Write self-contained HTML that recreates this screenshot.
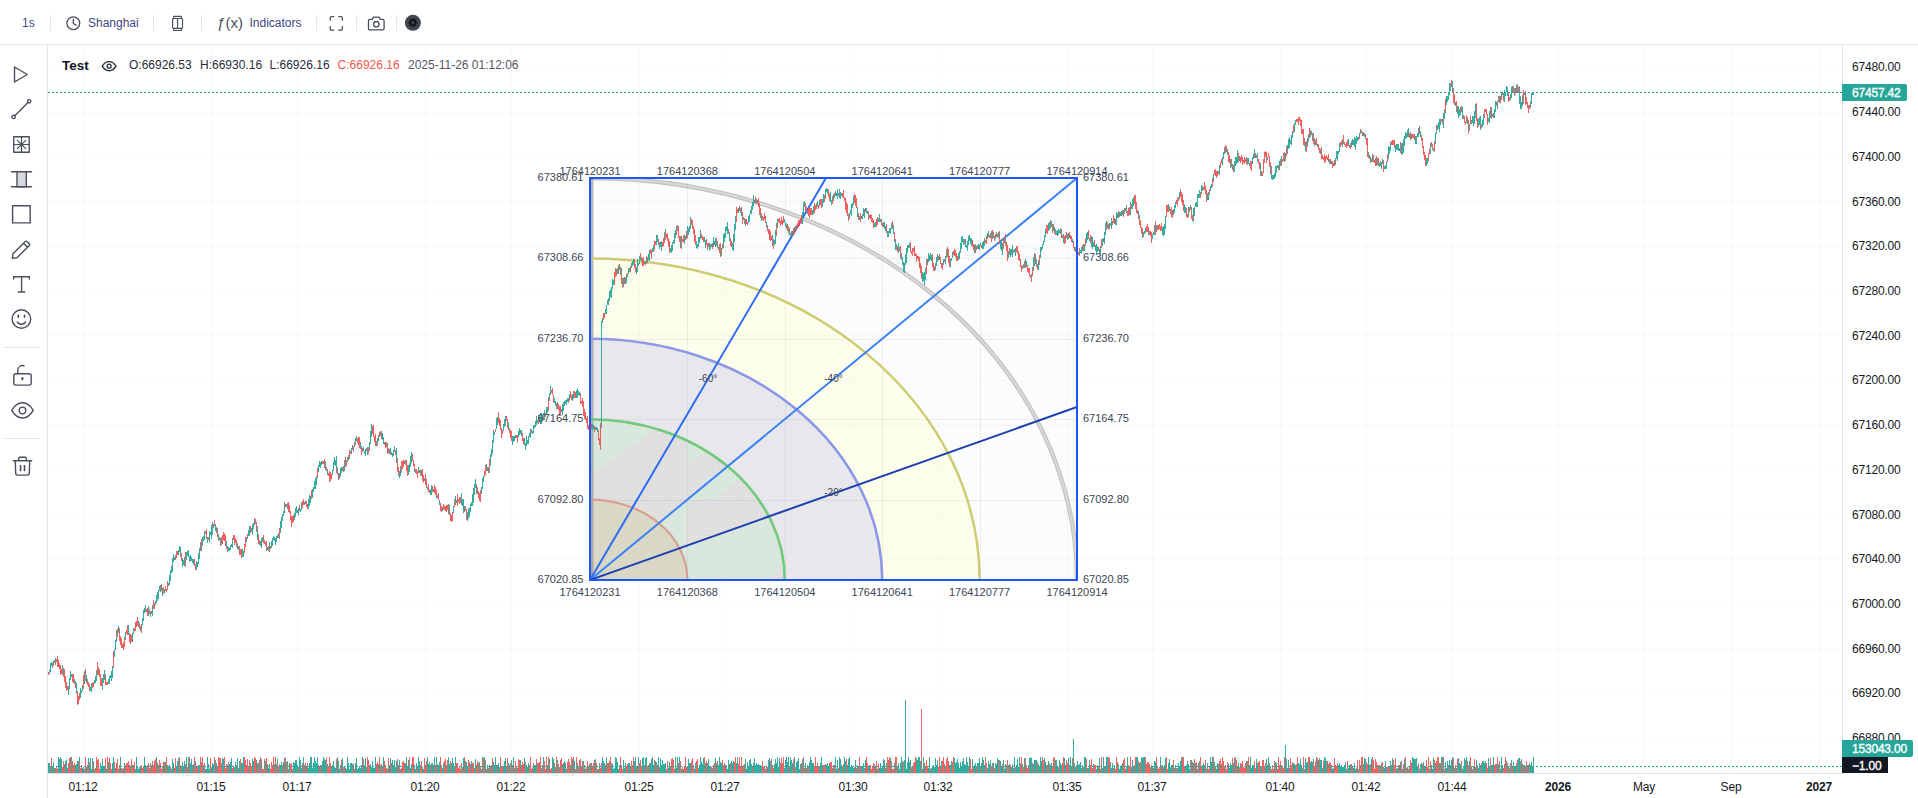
<!DOCTYPE html>
<html><head><meta charset="utf-8"><title>Chart</title>
<style>html,body{margin:0;padding:0;background:#fff;overflow:hidden}svg{display:block;font-family:"Liberation Sans",sans-serif}</style>
</head><body>
<svg width="1918" height="798" viewBox="0 0 1918 798">
<defs>
<pattern id="stip" width="3" height="4" patternUnits="userSpaceOnUse"><rect width="3" height="4" fill="#dcdce1"/><rect x="0" y="0" width="1" height="1" fill="#efedd6"/><rect x="1.5" y="2" width="1" height="1" fill="#efedd6"/></pattern>
<clipPath id="ring"><path clip-rule="evenodd" d="M590 580L590 419.2A194.8 160.8 0 0 1 784.8 580ZM590 580L590 499.6A97.4 80.4 0 0 1 687.4 580Z"/></clipPath>
<filter id="blur" x="-5%" y="-5%" width="110%" height="110%"><feGaussianBlur stdDeviation="0.55"/></filter>
<clipPath id="outer6"><path clip-rule="evenodd" d="M590 178H1077V580H590ZM590 580L590 338.8A292.2 241.2 0 0 1 882.2 580Z"/></clipPath>
<clipPath id="boxclip"><rect x="590" y="178" width="487" height="402"/></clipPath>
</defs>
<rect width="1918" height="798" fill="#fff"/>
<g fill="#000" fill-opacity=".022"><rect x="83" y="45" width="1" height="728"/><rect x="211" y="45" width="1" height="728"/><rect x="297" y="45" width="1" height="728"/><rect x="425" y="45" width="1" height="728"/><rect x="511" y="45" width="1" height="728"/><rect x="639" y="45" width="1" height="728"/><rect x="725" y="45" width="1" height="728"/><rect x="853" y="45" width="1" height="728"/><rect x="938" y="45" width="1" height="728"/><rect x="1067" y="45" width="1" height="728"/><rect x="1152" y="45" width="1" height="728"/><rect x="1280" y="45" width="1" height="728"/><rect x="1366" y="45" width="1" height="728"/><rect x="1452" y="45" width="1" height="728"/><rect x="1558" y="45" width="1" height="728"/><rect x="1644" y="45" width="1" height="728"/><rect x="1731" y="45" width="1" height="728"/><rect x="1819" y="45" width="1" height="728"/><rect x="48" y="67" width="1794" height="1"/><rect x="48" y="112" width="1794" height="1"/><rect x="48" y="156" width="1794" height="1"/><rect x="48" y="201" width="1794" height="1"/><rect x="48" y="246" width="1794" height="1"/><rect x="48" y="291" width="1794" height="1"/><rect x="48" y="335" width="1794" height="1"/><rect x="48" y="380" width="1794" height="1"/><rect x="48" y="425" width="1794" height="1"/><rect x="48" y="469" width="1794" height="1"/><rect x="48" y="514" width="1794" height="1"/><rect x="48" y="559" width="1794" height="1"/><rect x="48" y="604" width="1794" height="1"/><rect x="48" y="648" width="1794" height="1"/><rect x="48" y="693" width="1794" height="1"/><rect x="48" y="738" width="1794" height="1"/></g>
<rect x="590" y="178" width="487" height="402" fill="#fcfcfc"/>
<path d="M590 580L590 178.0A487.0 402.0 0 0 1 1077.0 580Z" fill="#fcfcfd"/>
<path d="M590 580L590 258.4A389.6 321.6 0 0 1 979.6 580Z" fill="#fdfdeb"/>
<path d="M590 580L590 338.8A292.2 241.2 0 0 1 882.2 580Z" fill="#e8e8ec"/>
<path d="M590 580L590 419.2A194.8 160.8 0 0 1 784.8 580Z" fill="#d9e8dc"/>
<g clip-path="url(#ring)">
<path d="M590 476.5L652 431L687 405L687 500L590 580Z" fill="url(#stip)"/>
<path d="M687 467L740 423L760 440L687 500Z" fill="url(#stip)"/>
<path d="M687 500L715 499L765 457L800 457L800 505.4L687 545.5Z" fill="url(#stip)"/>
<path d="M767 580L790 562L790 580Z" fill="url(#stip)"/>
</g>
<path d="M590 580L590 499.6A97.4 80.4 0 0 1 687.4 580Z" fill="#d9d7c6"/>

<rect x="687" y="178" width="1" height="402" fill="#8c8c8c" fill-opacity=".13"/><rect x="590" y="500" width="487" height="1" fill="#8c8c8c" fill-opacity=".13"/><rect x="785" y="178" width="1" height="402" fill="#8c8c8c" fill-opacity=".13"/><rect x="590" y="419" width="487" height="1" fill="#8c8c8c" fill-opacity=".13"/><rect x="882" y="178" width="1" height="402" fill="#8c8c8c" fill-opacity=".13"/><rect x="590" y="339" width="487" height="1" fill="#8c8c8c" fill-opacity=".13"/><rect x="980" y="178" width="1" height="402" fill="#8c8c8c" fill-opacity=".13"/><rect x="590" y="258" width="487" height="1" fill="#8c8c8c" fill-opacity=".13"/>
<g clip-path="url(#outer6)"><g fill="#000" fill-opacity=".022"><rect x="83" y="45" width="1" height="728"/><rect x="211" y="45" width="1" height="728"/><rect x="297" y="45" width="1" height="728"/><rect x="425" y="45" width="1" height="728"/><rect x="511" y="45" width="1" height="728"/><rect x="639" y="45" width="1" height="728"/><rect x="725" y="45" width="1" height="728"/><rect x="853" y="45" width="1" height="728"/><rect x="938" y="45" width="1" height="728"/><rect x="1067" y="45" width="1" height="728"/><rect x="1152" y="45" width="1" height="728"/><rect x="1280" y="45" width="1" height="728"/><rect x="1366" y="45" width="1" height="728"/><rect x="1452" y="45" width="1" height="728"/><rect x="1558" y="45" width="1" height="728"/><rect x="1644" y="45" width="1" height="728"/><rect x="1731" y="45" width="1" height="728"/><rect x="1819" y="45" width="1" height="728"/><rect x="48" y="67" width="1794" height="1"/><rect x="48" y="112" width="1794" height="1"/><rect x="48" y="156" width="1794" height="1"/><rect x="48" y="201" width="1794" height="1"/><rect x="48" y="246" width="1794" height="1"/><rect x="48" y="291" width="1794" height="1"/><rect x="48" y="335" width="1794" height="1"/><rect x="48" y="380" width="1794" height="1"/><rect x="48" y="425" width="1794" height="1"/><rect x="48" y="469" width="1794" height="1"/><rect x="48" y="514" width="1794" height="1"/><rect x="48" y="559" width="1794" height="1"/><rect x="48" y="604" width="1794" height="1"/><rect x="48" y="648" width="1794" height="1"/><rect x="48" y="693" width="1794" height="1"/><rect x="48" y="738" width="1794" height="1"/></g></g>
<path d="M48 763v10h1v-10zM49 763v10h1v-10zM50 766v7h1v-7zM52 767v6h1v-6zM53 762v11h1v-11zM54 768v5h1v-5zM58 757v16h1v-16zM59 759v14h1v-14zM60 757v16h1v-16zM61 759v14h1v-14zM65 761v12h1v-12zM66 760v13h1v-13zM67 768v5h1v-5zM70 757v16h1v-16zM75 765v8h1v-8zM76 764v9h1v-9zM77 761v12h1v-12zM79 757v16h1v-16zM82 768v5h1v-5zM83 767v6h1v-6zM84 769v4h1v-4zM86 767v6h1v-6zM88 758v15h1v-15zM90 758v15h1v-15zM91 769v4h1v-4zM92 758v15h1v-15zM94 769v4h1v-4zM100 763v10h1v-10zM101 767v6h1v-6zM102 759v14h1v-14zM103 766v7h1v-7zM104 766v7h1v-7zM106 769v4h1v-4zM108 762v11h1v-11zM112 763v10h1v-10zM113 757v16h1v-16zM115 768v5h1v-5zM118 769v4h1v-4zM120 757v16h1v-16zM122 769v4h1v-4zM124 763v10h1v-10zM130 766v7h1v-7zM135 769v4h1v-4zM136 757v16h1v-16zM137 766v7h1v-7zM138 769v4h1v-4zM139 767v6h1v-6zM140 767v6h1v-6zM144 757v16h1v-16zM145 765v8h1v-8zM146 766v7h1v-7zM150 763v10h1v-10zM156 757v16h1v-16zM158 765v8h1v-8zM162 766v7h1v-7zM164 762v11h1v-11zM167 765v8h1v-8zM168 767v6h1v-6zM169 765v8h1v-8zM171 769v4h1v-4zM172 759v14h1v-14zM173 763v10h1v-10zM176 766v7h1v-7zM177 761v12h1v-12zM179 757v16h1v-16zM181 767v6h1v-6zM182 762v11h1v-11zM183 766v7h1v-7zM184 761v12h1v-12zM186 757v16h1v-16zM188 757v16h1v-16zM190 763v10h1v-10zM191 759v14h1v-14zM192 765v8h1v-8zM195 761v12h1v-12zM198 765v8h1v-8zM199 765v8h1v-8zM203 765v8h1v-8zM205 769v4h1v-4zM206 769v4h1v-4zM207 757v16h1v-16zM208 764v9h1v-9zM209 769v4h1v-4zM211 767v6h1v-6zM212 763v10h1v-10zM213 764v9h1v-9zM215 760v13h1v-13zM216 763v10h1v-10zM222 758v15h1v-15zM223 759v14h1v-14zM227 765v8h1v-8zM229 764v9h1v-9zM230 762v11h1v-11zM231 758v15h1v-15zM234 767v6h1v-6zM235 762v11h1v-11zM237 758v15h1v-15zM238 768v5h1v-5zM239 761v12h1v-12zM241 763v10h1v-10zM242 763v10h1v-10zM243 757v16h1v-16zM248 767v6h1v-6zM252 759v14h1v-14zM253 761v12h1v-12zM256 760v13h1v-13zM258 763v10h1v-10zM261 759v14h1v-14zM265 761v12h1v-12zM267 764v9h1v-9zM268 768v5h1v-5zM269 764v9h1v-9zM274 764v9h1v-9zM277 759v14h1v-14zM278 766v7h1v-7zM280 765v8h1v-8zM281 762v11h1v-11zM283 762v11h1v-11zM284 758v15h1v-15zM287 761v12h1v-12zM288 769v4h1v-4zM289 763v10h1v-10zM293 762v11h1v-11zM294 763v10h1v-10zM295 760v13h1v-13zM296 760v13h1v-13zM297 765v8h1v-8zM299 757v16h1v-16zM300 760v13h1v-13zM301 768v5h1v-5zM303 757v16h1v-16zM304 765v8h1v-8zM306 766v7h1v-7zM308 768v5h1v-5zM309 763v10h1v-10zM310 757v16h1v-16zM311 757v16h1v-16zM312 768v5h1v-5zM313 763v10h1v-10zM314 757v16h1v-16zM315 761v12h1v-12zM316 763v10h1v-10zM317 757v16h1v-16zM319 766v7h1v-7zM321 765v8h1v-8zM322 761v12h1v-12zM323 757v16h1v-16zM324 759v14h1v-14zM325 760v13h1v-13zM327 764v9h1v-9zM331 766v7h1v-7zM332 765v8h1v-8zM333 761v12h1v-12zM334 767v6h1v-6zM335 768v5h1v-5zM337 757v16h1v-16zM338 761v12h1v-12zM339 769v4h1v-4zM340 765v8h1v-8zM342 758v15h1v-15zM344 767v6h1v-6zM346 769v4h1v-4zM347 757v16h1v-16zM348 763v10h1v-10zM349 769v4h1v-4zM350 763v10h1v-10zM351 763v10h1v-10zM353 764v9h1v-9zM355 763v10h1v-10zM356 758v15h1v-15zM357 769v4h1v-4zM358 768v5h1v-5zM359 766v7h1v-7zM360 768v5h1v-5zM361 765v8h1v-8zM362 757v16h1v-16zM364 765v8h1v-8zM365 758v15h1v-15zM366 767v6h1v-6zM370 764v9h1v-9zM371 767v6h1v-6zM372 761v12h1v-12zM373 768v5h1v-5zM374 768v5h1v-5zM375 757v16h1v-16zM378 764v9h1v-9zM380 765v8h1v-8zM383 757v16h1v-16zM387 769v4h1v-4zM389 765v8h1v-8zM390 758v15h1v-15zM392 760v13h1v-13zM393 765v8h1v-8zM394 760v13h1v-13zM395 767v6h1v-6zM397 759v14h1v-14zM399 760v13h1v-13zM400 769v4h1v-4zM405 763v10h1v-10zM406 757v16h1v-16zM407 766v7h1v-7zM408 760v13h1v-13zM410 768v5h1v-5zM411 764v9h1v-9zM414 765v8h1v-8zM415 769v4h1v-4zM416 763v10h1v-10zM418 757v16h1v-16zM419 761v12h1v-12zM422 767v6h1v-6zM423 769v4h1v-4zM427 757v16h1v-16zM428 764v9h1v-9zM429 762v11h1v-11zM431 763v10h1v-10zM432 763v10h1v-10zM433 765v8h1v-8zM434 757v16h1v-16zM436 757v16h1v-16zM438 765v8h1v-8zM439 762v11h1v-11zM442 768v5h1v-5zM443 763v10h1v-10zM446 765v8h1v-8zM448 757v16h1v-16zM449 764v9h1v-9zM451 763v10h1v-10zM452 758v15h1v-15zM453 763v10h1v-10zM455 757v16h1v-16zM460 769v4h1v-4zM463 758v15h1v-15zM465 761v12h1v-12zM466 762v11h1v-11zM467 766v7h1v-7zM471 761v12h1v-12zM474 768v5h1v-5zM475 759v14h1v-14zM479 762v11h1v-11zM481 769v4h1v-4zM482 757v16h1v-16zM484 757v16h1v-16zM487 765v8h1v-8zM489 765v8h1v-8zM490 766v7h1v-7zM493 762v11h1v-11zM494 765v8h1v-8zM495 757v16h1v-16zM496 765v8h1v-8zM498 763v10h1v-10zM499 767v6h1v-6zM503 766v7h1v-7zM504 761v12h1v-12zM505 758v15h1v-15zM506 766v7h1v-7zM508 763v10h1v-10zM511 760v13h1v-13zM513 757v16h1v-16zM514 768v5h1v-5zM517 768v5h1v-5zM520 760v13h1v-13zM524 758v15h1v-15zM526 765v8h1v-8zM527 767v6h1v-6zM528 763v10h1v-10zM532 768v5h1v-5zM534 765v8h1v-8zM535 765v8h1v-8zM537 763v10h1v-10zM541 768v5h1v-5zM543 757v16h1v-16zM547 765v8h1v-8zM549 759v14h1v-14zM552 757v16h1v-16zM553 759v14h1v-14zM555 767v6h1v-6zM557 760v13h1v-13zM559 767v6h1v-6zM563 763v10h1v-10zM564 761v12h1v-12zM565 763v10h1v-10zM566 769v4h1v-4zM570 765v8h1v-8zM572 759v14h1v-14zM574 761v12h1v-12zM577 763v10h1v-10zM578 766v7h1v-7zM582 761v12h1v-12zM584 765v8h1v-8zM586 767v6h1v-6zM588 766v7h1v-7zM591 763v10h1v-10zM594 760v13h1v-13zM597 769v4h1v-4zM599 763v10h1v-10zM602 757v16h1v-16zM603 761v12h1v-12zM604 763v10h1v-10zM606 757v16h1v-16zM611 763v10h1v-10zM612 764v9h1v-9zM613 769v4h1v-4zM614 768v5h1v-5zM615 757v16h1v-16zM616 758v15h1v-15zM617 762v11h1v-11zM619 765v8h1v-8zM623 760v13h1v-13zM624 768v5h1v-5zM625 763v10h1v-10zM628 763v10h1v-10zM629 763v10h1v-10zM630 766v7h1v-7zM634 761v12h1v-12zM635 757v16h1v-16zM637 766v7h1v-7zM638 757v16h1v-16zM642 758v15h1v-15zM643 757v16h1v-16zM645 758v15h1v-15zM646 757v16h1v-16zM648 765v8h1v-8zM650 763v10h1v-10zM651 759v14h1v-14zM652 757v16h1v-16zM653 765v8h1v-8zM655 761v12h1v-12zM656 762v11h1v-11zM658 757v16h1v-16zM660 758v15h1v-15zM661 765v8h1v-8zM662 760v13h1v-13zM663 764v9h1v-9zM664 764v9h1v-9zM665 763v10h1v-10zM668 768v5h1v-5zM669 762v11h1v-11zM670 766v7h1v-7zM675 757v16h1v-16zM676 768v5h1v-5zM677 757v16h1v-16zM679 757v16h1v-16zM681 769v4h1v-4zM683 769v4h1v-4zM687 766v7h1v-7zM688 759v14h1v-14zM689 763v10h1v-10zM690 763v10h1v-10zM694 769v4h1v-4zM695 763v10h1v-10zM698 768v5h1v-5zM699 765v8h1v-8zM700 757v16h1v-16zM701 762v11h1v-11zM702 764v9h1v-9zM703 758v15h1v-15zM705 763v10h1v-10zM707 763v10h1v-10zM708 759v14h1v-14zM709 766v7h1v-7zM710 766v7h1v-7zM712 768v5h1v-5zM715 758v15h1v-15zM716 763v10h1v-10zM718 765v8h1v-8zM719 757v16h1v-16zM720 762v11h1v-11zM721 763v10h1v-10zM723 765v8h1v-8zM726 765v8h1v-8zM727 769v4h1v-4zM728 760v13h1v-13zM729 764v9h1v-9zM731 761v12h1v-12zM732 763v10h1v-10zM733 761v12h1v-12zM736 763v10h1v-10zM737 757v16h1v-16zM742 766v7h1v-7zM745 759v14h1v-14zM746 769v4h1v-4zM747 762v11h1v-11zM748 766v7h1v-7zM749 760v13h1v-13zM750 759v14h1v-14zM751 764v9h1v-9zM753 763v10h1v-10zM754 758v15h1v-15zM755 765v8h1v-8zM756 763v10h1v-10zM757 765v8h1v-8zM758 764v9h1v-9zM759 765v8h1v-8zM760 765v8h1v-8zM761 767v6h1v-6zM765 769v4h1v-4zM767 767v6h1v-6zM768 760v13h1v-13zM769 758v15h1v-15zM770 761v12h1v-12zM774 764v9h1v-9zM775 759v14h1v-14zM776 763v10h1v-10zM777 757v16h1v-16zM778 767v6h1v-6zM779 758v15h1v-15zM784 768v5h1v-5zM785 760v13h1v-13zM786 757v16h1v-16zM787 762v11h1v-11zM788 757v16h1v-16zM790 757v16h1v-16zM791 760v13h1v-13zM792 763v10h1v-10zM794 757v16h1v-16zM796 762v11h1v-11zM797 761v12h1v-12zM798 758v15h1v-15zM799 769v4h1v-4zM801 763v10h1v-10zM802 759v14h1v-14zM805 763v10h1v-10zM807 765v8h1v-8zM809 762v11h1v-11zM810 757v16h1v-16zM811 760v13h1v-13zM812 763v10h1v-10zM813 763v10h1v-10zM819 766v7h1v-7zM820 763v10h1v-10zM821 757v16h1v-16zM823 765v8h1v-8zM826 765v8h1v-8zM827 763v10h1v-10zM828 766v7h1v-7zM829 763v10h1v-10zM832 768v5h1v-5zM835 757v16h1v-16zM836 769v4h1v-4zM837 760v13h1v-13zM839 757v16h1v-16zM840 759v14h1v-14zM841 765v8h1v-8zM842 766v7h1v-7zM844 757v16h1v-16zM845 761v12h1v-12zM847 765v8h1v-8zM848 759v14h1v-14zM849 757v16h1v-16zM850 767v6h1v-6zM851 765v8h1v-8zM852 766v7h1v-7zM853 768v5h1v-5zM855 760v13h1v-13zM857 765v8h1v-8zM858 766v7h1v-7zM861 767v6h1v-6zM862 766v7h1v-7zM863 763v10h1v-10zM865 760v13h1v-13zM868 766v7h1v-7zM869 765v8h1v-8zM875 766v7h1v-7zM877 769v4h1v-4zM879 768v5h1v-5zM880 763v10h1v-10zM881 768v5h1v-5zM882 766v7h1v-7zM883 759v14h1v-14zM884 760v13h1v-13zM886 763v10h1v-10zM890 758v15h1v-15zM894 763v10h1v-10zM897 767v6h1v-6zM898 763v10h1v-10zM899 769v4h1v-4zM900 763v10h1v-10zM901 757v16h1v-16zM902 761v12h1v-12zM904 760v13h1v-13zM905 700v73h1v-73zM906 769v4h1v-4zM907 762v11h1v-11zM908 757v16h1v-16zM909 762v11h1v-11zM910 760v13h1v-13zM912 766v7h1v-7zM916 758v15h1v-15zM917 760v13h1v-13zM918 757v16h1v-16zM919 757v16h1v-16zM920 761v12h1v-12zM922 769v4h1v-4zM923 757v16h1v-16zM925 767v6h1v-6zM928 768v5h1v-5zM929 757v16h1v-16zM931 768v5h1v-5zM932 767v6h1v-6zM933 765v8h1v-8zM934 767v6h1v-6zM935 758v15h1v-15zM936 765v8h1v-8zM937 760v13h1v-13zM941 761v12h1v-12zM945 766v7h1v-7zM950 765v8h1v-8zM951 761v12h1v-12zM954 758v15h1v-15zM955 763v10h1v-10zM956 762v11h1v-11zM957 759v14h1v-14zM958 763v10h1v-10zM959 768v5h1v-5zM960 762v11h1v-11zM961 766v7h1v-7zM962 761v12h1v-12zM963 758v15h1v-15zM964 764v9h1v-9zM965 765v8h1v-8zM966 757v16h1v-16zM967 762v11h1v-11zM969 757v16h1v-16zM972 759v14h1v-14zM974 765v8h1v-8zM975 763v10h1v-10zM977 763v10h1v-10zM978 763v10h1v-10zM979 758v15h1v-15zM981 763v10h1v-10zM982 757v16h1v-16zM983 760v13h1v-13zM984 765v8h1v-8zM987 768v5h1v-5zM988 761v12h1v-12zM989 764v9h1v-9zM990 760v13h1v-13zM992 763v10h1v-10zM995 763v10h1v-10zM996 764v9h1v-9zM997 758v15h1v-15zM998 760v13h1v-13zM1000 761v12h1v-12zM1001 767v6h1v-6zM1003 760v13h1v-13zM1004 769v4h1v-4zM1005 764v9h1v-9zM1006 765v8h1v-8zM1009 764v9h1v-9zM1011 767v6h1v-6zM1012 764v9h1v-9zM1013 768v5h1v-5zM1014 757v16h1v-16zM1016 765v8h1v-8zM1017 759v14h1v-14zM1018 767v6h1v-6zM1019 757v16h1v-16zM1022 764v9h1v-9zM1024 758v15h1v-15zM1029 758v15h1v-15zM1030 757v16h1v-16zM1031 758v15h1v-15zM1032 763v10h1v-10zM1034 760v13h1v-13zM1035 760v13h1v-13zM1036 760v13h1v-13zM1038 764v9h1v-9zM1039 766v7h1v-7zM1040 757v16h1v-16zM1041 761v12h1v-12zM1044 758v15h1v-15zM1045 762v11h1v-11zM1046 765v8h1v-8zM1048 761v12h1v-12zM1050 765v8h1v-8zM1051 763v10h1v-10zM1055 760v13h1v-13zM1056 760v13h1v-13zM1057 767v6h1v-6zM1059 760v13h1v-13zM1060 763v10h1v-10zM1061 765v8h1v-8zM1064 758v15h1v-15zM1065 765v8h1v-8zM1068 758v15h1v-15zM1070 757v16h1v-16zM1071 766v7h1v-7zM1073 739v34h1v-34zM1074 763v10h1v-10zM1075 767v6h1v-6zM1077 761v12h1v-12zM1078 765v8h1v-8zM1079 764v9h1v-9zM1080 762v11h1v-11zM1081 768v5h1v-5zM1082 765v8h1v-8zM1084 757v16h1v-16zM1085 757v16h1v-16zM1087 768v5h1v-5zM1088 768v5h1v-5zM1089 760v13h1v-13zM1093 764v9h1v-9zM1096 769v4h1v-4zM1097 765v8h1v-8zM1099 758v15h1v-15zM1100 769v4h1v-4zM1102 768v5h1v-5zM1103 757v16h1v-16zM1104 766v7h1v-7zM1106 757v16h1v-16zM1107 757v16h1v-16zM1110 762v11h1v-11zM1111 768v5h1v-5zM1112 763v10h1v-10zM1114 765v8h1v-8zM1118 764v9h1v-9zM1119 769v4h1v-4zM1120 766v7h1v-7zM1121 765v8h1v-8zM1122 763v10h1v-10zM1126 766v7h1v-7zM1127 757v16h1v-16zM1131 767v6h1v-6zM1132 760v13h1v-13zM1133 767v6h1v-6zM1134 765v8h1v-8zM1136 757v16h1v-16zM1137 757v16h1v-16zM1139 763v10h1v-10zM1141 757v16h1v-16zM1142 758v15h1v-15zM1143 757v16h1v-16zM1144 757v16h1v-16zM1150 767v6h1v-6zM1152 767v6h1v-6zM1154 761v12h1v-12zM1155 762v11h1v-11zM1157 766v7h1v-7zM1160 757v16h1v-16zM1162 765v8h1v-8zM1164 765v8h1v-8zM1165 758v15h1v-15zM1168 763v10h1v-10zM1169 759v14h1v-14zM1170 767v6h1v-6zM1171 765v8h1v-8zM1172 765v8h1v-8zM1175 765v8h1v-8zM1177 768v5h1v-5zM1178 763v10h1v-10zM1179 766v7h1v-7zM1180 761v12h1v-12zM1181 757v16h1v-16zM1184 767v6h1v-6zM1186 765v8h1v-8zM1187 761v12h1v-12zM1188 764v9h1v-9zM1189 769v4h1v-4zM1191 760v13h1v-13zM1192 762v11h1v-11zM1195 763v10h1v-10zM1197 769v4h1v-4zM1199 761v12h1v-12zM1202 765v8h1v-8zM1203 763v10h1v-10zM1204 765v8h1v-8zM1207 763v10h1v-10zM1210 757v16h1v-16zM1211 762v11h1v-11zM1212 757v16h1v-16zM1214 762v11h1v-11zM1216 769v4h1v-4zM1217 763v10h1v-10zM1218 764v9h1v-9zM1224 767v6h1v-6zM1228 764v9h1v-9zM1229 768v5h1v-5zM1230 763v10h1v-10zM1231 765v8h1v-8zM1233 763v10h1v-10zM1234 758v15h1v-15zM1237 766v7h1v-7zM1238 763v10h1v-10zM1246 761v12h1v-12zM1249 765v8h1v-8zM1250 757v16h1v-16zM1251 768v5h1v-5zM1252 765v8h1v-8zM1253 765v8h1v-8zM1256 759v14h1v-14zM1257 763v10h1v-10zM1260 766v7h1v-7zM1261 766v7h1v-7zM1264 767v6h1v-6zM1266 759v14h1v-14zM1267 765v8h1v-8zM1268 757v16h1v-16zM1270 766v7h1v-7zM1275 762v11h1v-11zM1276 763v10h1v-10zM1281 765v8h1v-8zM1285 745v28h1v-28zM1286 759v14h1v-14zM1287 768v5h1v-5zM1288 760v13h1v-13zM1293 763v10h1v-10zM1294 764v9h1v-9zM1295 765v8h1v-8zM1298 763v10h1v-10zM1299 764v9h1v-9zM1300 759v14h1v-14zM1301 765v8h1v-8zM1302 768v5h1v-5zM1305 758v15h1v-15zM1306 763v10h1v-10zM1307 762v11h1v-11zM1310 762v11h1v-11zM1311 761v12h1v-12zM1313 759v14h1v-14zM1317 758v15h1v-15zM1318 760v13h1v-13zM1320 760v13h1v-13zM1321 760v13h1v-13zM1322 768v5h1v-5zM1324 757v16h1v-16zM1325 758v15h1v-15zM1327 761v12h1v-12zM1331 765v8h1v-8zM1332 769v4h1v-4zM1333 768v5h1v-5zM1338 765v8h1v-8zM1339 763v10h1v-10zM1340 767v6h1v-6zM1341 765v8h1v-8zM1342 767v6h1v-6zM1343 767v6h1v-6zM1344 765v8h1v-8zM1345 762v11h1v-11zM1346 769v4h1v-4zM1348 768v5h1v-5zM1349 765v8h1v-8zM1350 764v9h1v-9zM1352 766v7h1v-7zM1354 763v10h1v-10zM1355 769v4h1v-4zM1356 768v5h1v-5zM1358 769v4h1v-4zM1363 764v9h1v-9zM1364 758v15h1v-15zM1365 759v14h1v-14zM1368 757v16h1v-16zM1369 765v8h1v-8zM1371 759v14h1v-14zM1379 765v8h1v-8zM1380 767v6h1v-6zM1383 767v6h1v-6zM1384 768v5h1v-5zM1385 761v12h1v-12zM1386 767v6h1v-6zM1390 761v12h1v-12zM1391 765v8h1v-8zM1392 758v15h1v-15zM1396 769v4h1v-4zM1397 768v5h1v-5zM1399 765v8h1v-8zM1401 761v12h1v-12zM1402 769v4h1v-4zM1404 759v14h1v-14zM1407 767v6h1v-6zM1409 766v7h1v-7zM1412 757v16h1v-16zM1413 758v15h1v-15zM1414 759v14h1v-14zM1415 759v14h1v-14zM1416 758v15h1v-15zM1417 766v7h1v-7zM1419 769v4h1v-4zM1420 764v9h1v-9zM1421 763v10h1v-10zM1423 762v11h1v-11zM1424 766v7h1v-7zM1425 767v6h1v-6zM1429 769v4h1v-4zM1431 765v8h1v-8zM1432 769v4h1v-4zM1433 758v15h1v-15zM1435 763v10h1v-10zM1439 763v10h1v-10zM1441 757v16h1v-16zM1443 757v16h1v-16zM1445 762v11h1v-11zM1446 768v5h1v-5zM1447 761v12h1v-12zM1449 760v13h1v-13zM1450 765v8h1v-8zM1451 760v13h1v-13zM1452 757v16h1v-16zM1454 768v5h1v-5zM1456 768v5h1v-5zM1458 758v15h1v-15zM1459 763v10h1v-10zM1460 764v9h1v-9zM1462 769v4h1v-4zM1463 766v7h1v-7zM1464 758v15h1v-15zM1465 760v13h1v-13zM1466 757v16h1v-16zM1469 761v12h1v-12zM1471 766v7h1v-7zM1473 766v7h1v-7zM1475 767v6h1v-6zM1476 760v13h1v-13zM1478 768v5h1v-5zM1479 763v10h1v-10zM1480 765v8h1v-8zM1482 761v12h1v-12zM1483 761v12h1v-12zM1484 763v10h1v-10zM1485 761v12h1v-12zM1488 758v15h1v-15zM1489 766v7h1v-7zM1491 765v8h1v-8zM1492 765v8h1v-8zM1493 757v16h1v-16zM1496 764v9h1v-9zM1498 764v9h1v-9zM1500 769v4h1v-4zM1501 757v16h1v-16zM1502 765v8h1v-8zM1506 761v12h1v-12zM1508 767v6h1v-6zM1511 760v13h1v-13zM1513 762v11h1v-11zM1514 766v7h1v-7zM1515 766v7h1v-7zM1516 763v10h1v-10zM1518 758v15h1v-15zM1519 758v15h1v-15zM1521 759v14h1v-14zM1522 764v9h1v-9zM1524 765v8h1v-8zM1527 765v8h1v-8zM1528 765v8h1v-8zM1530 765v8h1v-8zM1531 762v11h1v-11zM1532 767v6h1v-6zM1533 757v16h1v-16z" fill="#36aca1"/><path d="M51 758v15h1v-15zM55 768v5h1v-5zM56 766v7h1v-7zM57 769v4h1v-4zM62 767v6h1v-6zM63 761v12h1v-12zM64 764v9h1v-9zM68 763v10h1v-10zM69 758v15h1v-15zM71 757v16h1v-16zM72 761v12h1v-12zM73 765v8h1v-8zM74 763v10h1v-10zM78 761v12h1v-12zM80 768v5h1v-5zM81 765v8h1v-8zM85 757v16h1v-16zM87 765v8h1v-8zM89 762v11h1v-11zM93 761v12h1v-12zM95 768v5h1v-5zM96 757v16h1v-16zM97 760v13h1v-13zM98 759v14h1v-14zM99 769v4h1v-4zM105 758v15h1v-15zM107 757v16h1v-16zM109 758v15h1v-15zM110 763v10h1v-10zM111 769v4h1v-4zM114 762v11h1v-11zM116 763v10h1v-10zM117 759v14h1v-14zM119 765v8h1v-8zM121 768v5h1v-5zM123 768v5h1v-5zM125 765v8h1v-8zM126 763v10h1v-10zM127 763v10h1v-10zM128 761v12h1v-12zM129 765v8h1v-8zM131 759v14h1v-14zM132 765v8h1v-8zM133 765v8h1v-8zM134 762v11h1v-11zM141 765v8h1v-8zM142 768v5h1v-5zM143 766v7h1v-7zM147 765v8h1v-8zM148 763v10h1v-10zM149 768v5h1v-5zM151 765v8h1v-8zM152 761v12h1v-12zM153 765v8h1v-8zM154 761v12h1v-12zM155 759v14h1v-14zM157 763v10h1v-10zM159 760v13h1v-13zM160 763v10h1v-10zM161 769v4h1v-4zM163 762v11h1v-11zM165 762v11h1v-11zM166 757v16h1v-16zM170 767v6h1v-6zM174 768v5h1v-5zM175 758v15h1v-15zM178 758v15h1v-15zM180 765v8h1v-8zM185 764v9h1v-9zM187 767v6h1v-6zM189 757v16h1v-16zM193 764v9h1v-9zM194 757v16h1v-16zM196 766v7h1v-7zM197 767v6h1v-6zM200 757v16h1v-16zM201 762v11h1v-11zM202 757v16h1v-16zM204 763v10h1v-10zM210 758v15h1v-15zM214 757v16h1v-16zM217 766v7h1v-7zM218 757v16h1v-16zM219 758v15h1v-15zM220 758v15h1v-15zM221 763v10h1v-10zM224 757v16h1v-16zM225 768v5h1v-5zM226 764v9h1v-9zM228 762v11h1v-11zM232 768v5h1v-5zM233 765v8h1v-8zM236 765v8h1v-8zM240 759v14h1v-14zM244 757v16h1v-16zM245 760v13h1v-13zM246 765v8h1v-8zM247 759v14h1v-14zM249 760v13h1v-13zM250 763v10h1v-10zM251 766v7h1v-7zM254 757v16h1v-16zM255 758v15h1v-15zM257 763v10h1v-10zM259 760v13h1v-13zM260 757v16h1v-16zM262 769v4h1v-4zM263 769v4h1v-4zM264 759v14h1v-14zM266 758v15h1v-15zM270 769v4h1v-4zM271 762v11h1v-11zM272 765v8h1v-8zM273 757v16h1v-16zM275 757v16h1v-16zM276 764v9h1v-9zM279 764v9h1v-9zM282 765v8h1v-8zM285 757v16h1v-16zM286 762v11h1v-11zM290 764v9h1v-9zM291 763v10h1v-10zM292 769v4h1v-4zM298 767v6h1v-6zM302 763v10h1v-10zM305 763v10h1v-10zM307 763v10h1v-10zM318 765v8h1v-8zM320 765v8h1v-8zM326 757v16h1v-16zM328 766v7h1v-7zM329 757v16h1v-16zM330 763v10h1v-10zM336 759v14h1v-14zM341 760v13h1v-13zM343 767v6h1v-6zM345 768v5h1v-5zM352 764v9h1v-9zM354 769v4h1v-4zM363 759v14h1v-14zM367 757v16h1v-16zM368 760v13h1v-13zM369 765v8h1v-8zM376 764v9h1v-9zM377 762v11h1v-11zM379 757v16h1v-16zM381 764v9h1v-9zM382 766v7h1v-7zM384 761v12h1v-12zM385 765v8h1v-8zM386 768v5h1v-5zM388 758v15h1v-15zM391 763v10h1v-10zM396 761v12h1v-12zM398 765v8h1v-8zM401 768v5h1v-5zM402 762v11h1v-11zM403 761v12h1v-12zM404 763v10h1v-10zM409 757v16h1v-16zM412 757v16h1v-16zM413 757v16h1v-16zM417 766v7h1v-7zM420 765v8h1v-8zM421 761v12h1v-12zM424 758v15h1v-15zM425 765v8h1v-8zM426 761v12h1v-12zM430 765v8h1v-8zM435 765v8h1v-8zM437 764v9h1v-9zM440 757v16h1v-16zM441 765v8h1v-8zM444 761v12h1v-12zM445 759v14h1v-14zM447 760v13h1v-13zM450 761v12h1v-12zM454 766v7h1v-7zM456 763v10h1v-10zM457 763v10h1v-10zM458 768v5h1v-5zM459 766v7h1v-7zM461 763v10h1v-10zM462 767v6h1v-6zM464 757v16h1v-16zM468 760v13h1v-13zM469 762v11h1v-11zM470 764v9h1v-9zM472 763v10h1v-10zM473 763v10h1v-10zM476 765v8h1v-8zM477 761v12h1v-12zM478 763v10h1v-10zM480 766v7h1v-7zM483 758v15h1v-15zM485 760v13h1v-13zM486 769v4h1v-4zM488 768v5h1v-5zM491 765v8h1v-8zM492 758v15h1v-15zM497 765v8h1v-8zM500 757v16h1v-16zM501 766v7h1v-7zM502 766v7h1v-7zM507 758v15h1v-15zM509 765v8h1v-8zM510 763v10h1v-10zM512 765v8h1v-8zM515 761v12h1v-12zM516 766v7h1v-7zM518 759v14h1v-14zM519 760v13h1v-13zM521 765v8h1v-8zM522 762v11h1v-11zM523 764v9h1v-9zM525 762v11h1v-11zM529 765v8h1v-8zM530 757v16h1v-16zM531 769v4h1v-4zM533 763v10h1v-10zM536 759v14h1v-14zM538 763v10h1v-10zM539 762v11h1v-11zM540 757v16h1v-16zM542 765v8h1v-8zM544 761v12h1v-12zM545 769v4h1v-4zM546 757v16h1v-16zM548 757v16h1v-16zM550 769v4h1v-4zM551 768v5h1v-5zM554 763v10h1v-10zM556 757v16h1v-16zM558 764v9h1v-9zM560 760v13h1v-13zM561 758v15h1v-15zM562 764v9h1v-9zM567 762v11h1v-11zM568 759v14h1v-14zM569 762v11h1v-11zM571 757v16h1v-16zM573 757v16h1v-16zM575 769v4h1v-4zM576 757v16h1v-16zM579 760v13h1v-13zM580 759v14h1v-14zM581 766v7h1v-7zM583 761v12h1v-12zM585 769v4h1v-4zM587 761v12h1v-12zM589 764v9h1v-9zM590 763v10h1v-10zM592 767v6h1v-6zM593 763v10h1v-10zM595 759v14h1v-14zM596 763v10h1v-10zM598 769v4h1v-4zM600 768v5h1v-5zM601 763v10h1v-10zM605 765v8h1v-8zM607 763v10h1v-10zM608 763v10h1v-10zM609 761v12h1v-12zM610 757v16h1v-16zM618 769v4h1v-4zM620 757v16h1v-16zM621 765v8h1v-8zM622 769v4h1v-4zM626 766v7h1v-7zM627 764v9h1v-9zM631 761v12h1v-12zM632 765v8h1v-8zM633 757v16h1v-16zM636 766v7h1v-7zM639 763v10h1v-10zM640 760v13h1v-13zM641 767v6h1v-6zM644 765v8h1v-8zM647 766v7h1v-7zM649 763v10h1v-10zM654 760v13h1v-13zM657 765v8h1v-8zM659 767v6h1v-6zM666 769v4h1v-4zM667 761v12h1v-12zM671 759v14h1v-14zM672 758v15h1v-15zM673 760v13h1v-13zM674 769v4h1v-4zM678 763v10h1v-10zM680 761v12h1v-12zM682 767v6h1v-6zM684 766v7h1v-7zM685 757v16h1v-16zM686 767v6h1v-6zM691 761v12h1v-12zM692 758v15h1v-15zM693 765v8h1v-8zM696 761v12h1v-12zM697 759v14h1v-14zM704 757v16h1v-16zM706 761v12h1v-12zM711 767v6h1v-6zM713 765v8h1v-8zM714 763v10h1v-10zM717 761v12h1v-12zM722 760v13h1v-13zM724 763v10h1v-10zM725 765v8h1v-8zM730 763v10h1v-10zM734 762v11h1v-11zM735 757v16h1v-16zM738 764v9h1v-9zM739 757v16h1v-16zM740 766v7h1v-7zM741 757v16h1v-16zM743 765v8h1v-8zM744 764v9h1v-9zM752 766v7h1v-7zM762 761v12h1v-12zM763 767v6h1v-6zM764 767v6h1v-6zM766 766v7h1v-7zM771 759v14h1v-14zM772 765v8h1v-8zM773 768v5h1v-5zM780 763v10h1v-10zM781 758v15h1v-15zM782 763v10h1v-10zM783 757v16h1v-16zM789 767v6h1v-6zM793 759v14h1v-14zM795 767v6h1v-6zM800 764v9h1v-9zM803 757v16h1v-16zM804 768v5h1v-5zM806 768v5h1v-5zM808 767v6h1v-6zM814 766v7h1v-7zM815 757v16h1v-16zM816 767v6h1v-6zM817 763v10h1v-10zM818 766v7h1v-7zM822 765v8h1v-8zM824 765v8h1v-8zM825 764v9h1v-9zM830 762v11h1v-11zM831 762v11h1v-11zM833 765v8h1v-8zM834 765v8h1v-8zM838 768v5h1v-5zM843 764v9h1v-9zM846 759v14h1v-14zM854 767v6h1v-6zM856 768v5h1v-5zM859 757v16h1v-16zM860 767v6h1v-6zM864 768v5h1v-5zM866 757v16h1v-16zM867 763v10h1v-10zM870 765v8h1v-8zM871 769v4h1v-4zM872 767v6h1v-6zM873 763v10h1v-10zM874 764v9h1v-9zM876 761v12h1v-12zM878 764v9h1v-9zM885 768v5h1v-5zM887 757v16h1v-16zM888 760v13h1v-13zM889 757v16h1v-16zM891 761v12h1v-12zM892 769v4h1v-4zM893 769v4h1v-4zM895 757v16h1v-16zM896 757v16h1v-16zM903 762v11h1v-11zM911 767v6h1v-6zM913 763v10h1v-10zM914 762v11h1v-11zM915 757v16h1v-16zM921 709v64h1v-64zM924 763v10h1v-10zM926 760v13h1v-13zM927 766v7h1v-7zM930 769v4h1v-4zM938 767v6h1v-6zM939 757v16h1v-16zM940 766v7h1v-7zM942 761v12h1v-12zM943 757v16h1v-16zM944 764v9h1v-9zM946 759v14h1v-14zM947 757v16h1v-16zM948 761v12h1v-12zM949 765v8h1v-8zM952 762v11h1v-11zM953 757v16h1v-16zM968 766v7h1v-7zM970 759v14h1v-14zM971 769v4h1v-4zM973 767v6h1v-6zM976 766v7h1v-7zM980 767v6h1v-6zM985 757v16h1v-16zM986 763v10h1v-10zM991 766v7h1v-7zM993 763v10h1v-10zM994 768v5h1v-5zM999 760v13h1v-13zM1002 764v9h1v-9zM1007 760v13h1v-13zM1008 765v8h1v-8zM1010 765v8h1v-8zM1015 767v6h1v-6zM1020 763v10h1v-10zM1021 757v16h1v-16zM1023 767v6h1v-6zM1025 758v15h1v-15zM1026 765v8h1v-8zM1027 768v5h1v-5zM1028 765v8h1v-8zM1033 764v9h1v-9zM1037 762v11h1v-11zM1042 757v16h1v-16zM1043 760v13h1v-13zM1047 765v8h1v-8zM1049 763v10h1v-10zM1052 767v6h1v-6zM1053 758v15h1v-15zM1054 757v16h1v-16zM1058 767v6h1v-6zM1062 763v10h1v-10zM1063 757v16h1v-16zM1066 760v13h1v-13zM1067 763v10h1v-10zM1069 765v8h1v-8zM1072 758v15h1v-15zM1076 765v8h1v-8zM1083 767v6h1v-6zM1086 759v14h1v-14zM1090 765v8h1v-8zM1091 759v14h1v-14zM1092 768v5h1v-5zM1094 765v8h1v-8zM1095 765v8h1v-8zM1098 766v7h1v-7zM1101 757v16h1v-16zM1105 767v6h1v-6zM1108 757v16h1v-16zM1109 758v15h1v-15zM1113 768v5h1v-5zM1115 769v4h1v-4zM1116 757v16h1v-16zM1117 762v11h1v-11zM1123 760v13h1v-13zM1124 758v15h1v-15zM1125 769v4h1v-4zM1128 765v8h1v-8zM1129 766v7h1v-7zM1130 757v16h1v-16zM1135 757v16h1v-16zM1138 761v12h1v-12zM1140 762v11h1v-11zM1145 757v16h1v-16zM1146 764v9h1v-9zM1147 762v11h1v-11zM1148 762v11h1v-11zM1149 764v9h1v-9zM1151 765v8h1v-8zM1153 768v5h1v-5zM1156 757v16h1v-16zM1158 769v4h1v-4zM1159 767v6h1v-6zM1161 765v8h1v-8zM1163 767v6h1v-6zM1166 757v16h1v-16zM1167 769v4h1v-4zM1173 760v13h1v-13zM1174 768v5h1v-5zM1176 768v5h1v-5zM1182 757v16h1v-16zM1183 757v16h1v-16zM1185 767v6h1v-6zM1190 760v13h1v-13zM1193 763v10h1v-10zM1194 759v14h1v-14zM1196 762v11h1v-11zM1198 763v10h1v-10zM1200 757v16h1v-16zM1201 767v6h1v-6zM1205 760v13h1v-13zM1206 769v4h1v-4zM1208 769v4h1v-4zM1209 766v7h1v-7zM1213 757v16h1v-16zM1215 766v7h1v-7zM1219 761v12h1v-12zM1220 759v14h1v-14zM1221 764v9h1v-9zM1222 757v16h1v-16zM1223 761v12h1v-12zM1225 765v8h1v-8zM1226 769v4h1v-4zM1227 762v11h1v-11zM1232 758v15h1v-15zM1235 757v16h1v-16zM1236 760v13h1v-13zM1239 767v6h1v-6zM1240 763v10h1v-10zM1241 764v9h1v-9zM1242 761v12h1v-12zM1243 767v6h1v-6zM1244 768v5h1v-5zM1245 763v10h1v-10zM1247 761v12h1v-12zM1248 757v16h1v-16zM1254 761v12h1v-12zM1255 768v5h1v-5zM1258 762v11h1v-11zM1259 761v12h1v-12zM1262 760v13h1v-13zM1263 760v13h1v-13zM1265 763v10h1v-10zM1269 763v10h1v-10zM1271 769v4h1v-4zM1272 765v8h1v-8zM1273 769v4h1v-4zM1274 761v12h1v-12zM1277 769v4h1v-4zM1278 757v16h1v-16zM1279 765v8h1v-8zM1280 761v12h1v-12zM1282 766v7h1v-7zM1283 768v5h1v-5zM1284 757v16h1v-16zM1289 768v5h1v-5zM1290 758v15h1v-15zM1291 765v8h1v-8zM1292 762v11h1v-11zM1296 764v9h1v-9zM1297 757v16h1v-16zM1303 757v16h1v-16zM1304 769v4h1v-4zM1308 757v16h1v-16zM1309 757v16h1v-16zM1312 762v11h1v-11zM1314 766v7h1v-7zM1315 761v12h1v-12zM1316 757v16h1v-16zM1319 758v15h1v-15zM1323 761v12h1v-12zM1326 761v12h1v-12zM1328 764v9h1v-9zM1329 762v11h1v-11zM1330 763v10h1v-10zM1334 758v15h1v-15zM1335 765v8h1v-8zM1336 767v6h1v-6zM1337 763v10h1v-10zM1347 761v12h1v-12zM1351 764v9h1v-9zM1353 768v5h1v-5zM1357 760v13h1v-13zM1359 760v13h1v-13zM1360 765v8h1v-8zM1361 757v16h1v-16zM1362 757v16h1v-16zM1366 762v11h1v-11zM1367 764v9h1v-9zM1370 764v9h1v-9zM1372 757v16h1v-16zM1373 760v13h1v-13zM1374 769v4h1v-4zM1375 759v14h1v-14zM1376 762v11h1v-11zM1377 765v8h1v-8zM1378 765v8h1v-8zM1381 763v10h1v-10zM1382 762v11h1v-11zM1387 767v6h1v-6zM1388 767v6h1v-6zM1389 766v7h1v-7zM1393 760v13h1v-13zM1394 765v8h1v-8zM1395 758v15h1v-15zM1398 765v8h1v-8zM1400 762v11h1v-11zM1403 764v9h1v-9zM1405 757v16h1v-16zM1406 768v5h1v-5zM1408 769v4h1v-4zM1410 760v13h1v-13zM1411 763v10h1v-10zM1418 763v10h1v-10zM1422 764v9h1v-9zM1426 760v13h1v-13zM1427 767v6h1v-6zM1428 757v16h1v-16zM1430 761v12h1v-12zM1434 760v13h1v-13zM1436 761v12h1v-12zM1437 757v16h1v-16zM1438 757v16h1v-16zM1440 763v10h1v-10zM1442 757v16h1v-16zM1444 769v4h1v-4zM1448 765v8h1v-8zM1453 758v15h1v-15zM1455 765v8h1v-8zM1457 759v14h1v-14zM1461 761v12h1v-12zM1467 761v12h1v-12zM1468 765v8h1v-8zM1470 757v16h1v-16zM1472 769v4h1v-4zM1474 759v14h1v-14zM1477 765v8h1v-8zM1481 763v10h1v-10zM1486 763v10h1v-10zM1487 768v5h1v-5zM1490 758v15h1v-15zM1494 765v8h1v-8zM1495 764v9h1v-9zM1497 757v16h1v-16zM1499 761v12h1v-12zM1503 768v5h1v-5zM1504 764v9h1v-9zM1505 757v16h1v-16zM1507 763v10h1v-10zM1509 768v5h1v-5zM1510 763v10h1v-10zM1512 767v6h1v-6zM1517 760v13h1v-13zM1520 761v12h1v-12zM1523 765v8h1v-8zM1525 767v6h1v-6zM1526 761v12h1v-12zM1529 763v10h1v-10z" fill="#f16461"/>
<g clip-path="url(#boxclip)">
<path d="M590 178.0A487.0 402.0 0 0 1 1077.0 580" fill="none" stroke="#8e8e8e" stroke-width="4.3" stroke-opacity=".55" filter="url(#blur)"/>
<path d="M590 178.0A487.0 402.0 0 0 1 1077.0 580" fill="none" stroke="#d8d8d8" stroke-width="2.2"/>
<rect x="591" y="178" width="2.5" height="402" fill="#8a8a8a" fill-opacity=".6"/>
<path d="M590 258.4A389.6 321.6 0 0 1 979.6 580" fill="none" stroke="#cfcb75" stroke-width="2.5"/>
<path d="M590 338.8A292.2 241.2 0 0 1 882.2 580" fill="none" stroke="#8c98e6" stroke-width="2.6"/>
<path d="M590 419.2A194.8 160.8 0 0 1 784.8 580" fill="none" stroke="#72c87c" stroke-width="2.6"/>
<path d="M590 499.6A97.4 80.4 0 0 1 687.4 580" fill="none" stroke="#d9a090" stroke-width="2.2"/>
<path d="M590 580L826 178" stroke="#2f6bf2" stroke-width="2" fill="none"/>
<path d="M590 580L1077 178" stroke="#3b82f6" stroke-width="2" fill="none"/>
<path d="M590 580L1077 407" stroke="#1e40af" stroke-width="2" fill="none"/>
<rect x="590" y="178" width="487" height="402" fill="none" stroke="#1f55ff" stroke-width="2"/>
</g>
<g fill-opacity=".92"><path d="M49 670v4h1v-4zM50 663v9h1v-9zM51 662v4h1v-4zM53 661v5h1v-5zM55 658v7h1v-7zM62 665v10h1v-10zM68 686v9h1v-9zM69 678v11h1v-11zM70 671v9h1v-9zM71 674v3h1v-3zM74 679v5h1v-5zM76 683v11h1v-11zM80 688v10h1v-10zM81 690v3h1v-3zM82 685v6h1v-6zM84 671v13h1v-13zM86 675v8h1v-8zM90 687v4h1v-4zM91 683v9h1v-9zM94 680v4h1v-4zM95 676v7h1v-7zM96 670v11h1v-11zM102 678v12h1v-12zM103 674v9h1v-9zM104 670v10h1v-10zM108 679v5h1v-5zM109 676v8h1v-8zM110 675v3h1v-3zM111 671v10h1v-10zM112 666v12h1v-12zM114 649v8h1v-8zM115 640v10h1v-10zM116 630v12h1v-12zM118 626v7h1v-7zM125 632v8h1v-8zM128 625v10h1v-10zM132 633v9h1v-9zM133 628v6h1v-6zM138 621v6h1v-6zM140 626v5h1v-5zM142 618v7h1v-7zM143 610v11h1v-11zM144 608v5h1v-5zM145 605v7h1v-7zM148 606v10h1v-10zM150 611v6h1v-6zM152 605v11h1v-11zM155 601v4h1v-4zM156 595v8h1v-8zM157 592v9h1v-9zM158 590v9h1v-9zM159 586v5h1v-5zM160 585v7h1v-7zM162 588v8h1v-8zM164 589v4h1v-4zM168 583v3h1v-3zM169 575v10h1v-10zM170 570v11h1v-11zM171 566v7h1v-7zM172 558v14h1v-14zM173 554v8h1v-8zM175 555v5h1v-5zM178 550v5h1v-5zM179 546v6h1v-6zM180 547v10h1v-10zM182 558v9h1v-9zM183 560v5h1v-5zM184 557v9h1v-9zM186 552v8h1v-8zM187 551v5h1v-5zM188 550v7h1v-7zM189 556v6h1v-6zM190 555v6h1v-6zM191 557v4h1v-4zM192 559v4h1v-4zM193 559v6h1v-6zM196 561v9h1v-9zM197 562v5h1v-5zM198 553v11h1v-11zM199 548v11h1v-11zM200 542v9h1v-9zM202 537v9h1v-9zM203 536v5h1v-5zM204 531v9h1v-9zM207 537v6h1v-6zM209 531v11h1v-11zM210 532v3h1v-3zM211 525v14h1v-14zM212 522v13h1v-13zM215 524v7h1v-7zM216 527v6h1v-6zM218 534v7h1v-7zM221 537v8h1v-8zM226 541v8h1v-8zM228 547v4h1v-4zM229 548v3h1v-3zM230 545v5h1v-5zM231 544v3h1v-3zM232 538v10h1v-10zM237 543v6h1v-6zM238 546v4h1v-4zM242 549v8h1v-8zM243 551v6h1v-6zM246 537v5h1v-5zM248 530v6h1v-6zM249 526v10h1v-10zM251 528v4h1v-4zM252 524v11h1v-11zM253 523v6h1v-6zM255 519v5h1v-5zM257 526v14h1v-14zM260 541v5h1v-5zM261 538v10h1v-10zM262 537v5h1v-5zM267 547v3h1v-3zM269 542v10h1v-10zM271 541v7h1v-7zM272 538v8h1v-8zM273 536v4h1v-4zM274 537v4h1v-4zM275 538v7h1v-7zM276 536v6h1v-6zM277 535v3h1v-3zM278 533v5h1v-5zM280 521v12h1v-12zM281 517v11h1v-11zM282 514v7h1v-7zM283 511v5h1v-5zM284 502v11h1v-11zM286 504v3h1v-3zM294 513v7h1v-7zM295 508v9h1v-9zM296 506v7h1v-7zM297 510v3h1v-3zM298 508v7h1v-7zM300 509v3h1v-3zM301 502v8h1v-8zM304 502v3h1v-3zM308 499v10h1v-10zM309 495v11h1v-11zM310 496v7h1v-7zM312 489v9h1v-9zM313 487v5h1v-5zM314 481v8h1v-8zM315 478v11h1v-11zM316 476v9h1v-9zM318 465v7h1v-7zM319 461v6h1v-6zM320 462v6h1v-6zM321 461v4h1v-4zM325 461v9h1v-9zM327 469v6h1v-6zM332 470v5h1v-5zM333 462v9h1v-9zM334 457v8h1v-8zM335 460v6h1v-6zM336 456v17h1v-17zM339 473v6h1v-6zM340 468v9h1v-9zM341 467v6h1v-6zM342 467v4h1v-4zM344 460v11h1v-11zM347 457v5h1v-5zM348 455v5h1v-5zM351 448v6h1v-6zM352 445v5h1v-5zM355 438v7h1v-7zM356 436v5h1v-5zM360 442v7h1v-7zM363 447v4h1v-4zM364 451v3h1v-3zM365 449v7h1v-7zM367 447v8h1v-8zM369 442v9h1v-9zM370 431v13h1v-13zM371 424v13h1v-13zM377 438v8h1v-8zM378 435v6h1v-6zM380 431v5h1v-5zM382 433v7h1v-7zM383 437v7h1v-7zM386 442v5h1v-5zM389 449v5h1v-5zM390 448v7h1v-7zM392 453v4h1v-4zM393 450v6h1v-6zM394 446v6h1v-6zM396 448v15h1v-15zM399 471v7h1v-7zM400 466v10h1v-10zM404 461v3h1v-3zM408 465v10h1v-10zM409 463v9h1v-9zM410 456v11h1v-11zM411 452v11h1v-11zM415 469v4h1v-4zM418 467v6h1v-6zM421 470v6h1v-6zM424 478v3h1v-3zM427 487v3h1v-3zM430 489v6h1v-6zM431 485v10h1v-10zM433 489v3h1v-3zM437 495v3h1v-3zM439 500v5h1v-5zM442 507v4h1v-4zM448 504v10h1v-10zM453 506v7h1v-7zM455 496v9h1v-9zM456 500v3h1v-3zM461 493v12h1v-12zM462 499v7h1v-7zM463 499v14h1v-14zM465 506v5h1v-5zM467 512v9h1v-9zM468 508v11h1v-11zM469 508v9h1v-9zM470 504v8h1v-8zM471 502v4h1v-4zM472 494v12h1v-12zM473 488v15h1v-15zM474 484v11h1v-11zM475 479v9h1v-9zM477 487v7h1v-7zM481 487v7h1v-7zM482 478v11h1v-11zM483 476v6h1v-6zM486 464v7h1v-7zM488 467v6h1v-6zM490 454v12h1v-12zM491 449v8h1v-8zM492 440v14h1v-14zM493 430v13h1v-13zM494 432v3h1v-3zM496 418v11h1v-11zM497 417v8h1v-8zM503 424v7h1v-7zM504 419v8h1v-8zM505 416v10h1v-10zM508 422v8h1v-8zM512 436v9h1v-9zM513 436v6h1v-6zM514 436v5h1v-5zM515 435v3h1v-3zM518 431v6h1v-6zM519 428v7h1v-7zM520 430v4h1v-4zM521 430v6h1v-6zM524 438v7h1v-7zM525 443v7h1v-7zM526 436v10h1v-10zM527 440v4h1v-4zM528 436v8h1v-8zM529 433v4h1v-4zM530 429v9h1v-9zM532 431v3h1v-3zM533 425v8h1v-8zM534 425v3h1v-3zM535 421v6h1v-6zM536 416v9h1v-9zM537 420v3h1v-3zM539 417v5h1v-5zM540 413v11h1v-11zM541 413v11h1v-11zM543 413v7h1v-7zM544 410v10h1v-10zM546 407v8h1v-8zM547 407v6h1v-6zM549 393v8h1v-8zM550 386v9h1v-9zM554 398v5h1v-5zM555 401v5h1v-5zM557 402v7h1v-7zM561 409v3h1v-3zM562 404v11h1v-11zM563 402v9h1v-9zM564 401v5h1v-5zM565 400v4h1v-4zM566 400v5h1v-5zM567 398v4h1v-4zM569 394v7h1v-7zM572 394v7h1v-7zM573 391v8h1v-8zM576 390v8h1v-8zM577 388v10h1v-10zM578 391v4h1v-4zM579 392v4h1v-4zM589 428v3h1v-3zM590 426v6h1v-6zM592 424v6h1v-6zM593 425v4h1v-4zM595 427v3h1v-3zM596 427v3h1v-3zM597 428v4h1v-4zM601 321v107h1v-107zM602 318v5h1v-5zM605 309v5h1v-5zM606 305v9h1v-9zM607 300v5h1v-5zM608 298v7h1v-7zM609 291v10h1v-10zM610 289v8h1v-8zM611 287v11h1v-11zM612 279v10h1v-10zM613 280v5h1v-5zM617 268v6h1v-6zM618 265v9h1v-9zM620 267v8h1v-8zM623 278v9h1v-9zM624 277v7h1v-7zM626 274v9h1v-9zM628 268v6h1v-6zM629 268v4h1v-4zM631 263v5h1v-5zM632 261v5h1v-5zM633 259v6h1v-6zM636 267v7h1v-7zM637 259v13h1v-13zM638 263v3h1v-3zM639 256v8h1v-8zM641 257v5h1v-5zM644 261v3h1v-3zM647 257v6h1v-6zM648 254v6h1v-6zM649 250v11h1v-11zM652 248v4h1v-4zM653 245v7h1v-7zM656 235v10h1v-10zM657 235v7h1v-7zM659 242v7h1v-7zM660 242v5h1v-5zM661 241v10h1v-10zM665 229v11h1v-11zM670 248v4h1v-4zM671 245v8h1v-8zM672 242v9h1v-9zM673 240v3h1v-3zM674 233v11h1v-11zM675 230v8h1v-8zM677 225v6h1v-6zM680 236v12h1v-12zM684 235v9h1v-9zM687 226v12h1v-12zM688 228v7h1v-7zM689 226v6h1v-6zM690 217v12h1v-12zM696 241v7h1v-7zM697 244v5h1v-5zM698 237v10h1v-10zM699 237v6h1v-6zM700 230v9h1v-9zM704 237v5h1v-5zM705 240v8h1v-8zM709 243v8h1v-8zM710 244v5h1v-5zM711 244v3h1v-3zM713 237v10h1v-10zM714 241v4h1v-4zM715 238v9h1v-9zM717 241v7h1v-7zM718 247v3h1v-3zM721 248v8h1v-8zM723 234v14h1v-14zM724 233v9h1v-9zM725 227v11h1v-11zM726 226v5h1v-5zM727 222v12h1v-12zM729 232v9h1v-9zM732 243v7h1v-7zM733 234v17h1v-17zM734 224v18h1v-18zM735 216v14h1v-14zM738 208v5h1v-5zM741 207v9h1v-9zM743 217v3h1v-3zM745 219v7h1v-7zM748 216v7h1v-7zM749 214v8h1v-8zM750 210v4h1v-4zM751 206v8h1v-8zM752 202v8h1v-8zM753 195v11h1v-11zM754 200v3h1v-3zM757 200v3h1v-3zM761 213v8h1v-8zM766 222v6h1v-6zM772 235v11h1v-11zM774 240v5h1v-5zM775 230v14h1v-14zM777 219v9h1v-9zM784 219v4h1v-4zM785 223v4h1v-4zM786 223v6h1v-6zM789 228v7h1v-7zM791 231v5h1v-5zM792 231v5h1v-5zM795 226v6h1v-6zM802 212v12h1v-12zM803 202v13h1v-13zM804 201v6h1v-6zM807 211v3h1v-3zM812 210v5h1v-5zM813 206v8h1v-8zM817 201v6h1v-6zM819 200v6h1v-6zM822 199v8h1v-8zM823 194v9h1v-9zM825 189v10h1v-10zM826 188v4h1v-4zM827 189v5h1v-5zM830 192v10h1v-10zM831 200v5h1v-5zM833 194v7h1v-7zM834 193v5h1v-5zM836 193v3h1v-3zM837 189v10h1v-10zM839 189v9h1v-9zM840 192v7h1v-7zM841 193v3h1v-3zM849 213v6h1v-6zM850 210v4h1v-4zM851 204v12h1v-12zM852 203v5h1v-5zM853 196v9h1v-9zM857 207v10h1v-10zM859 216v4h1v-4zM861 216v3h1v-3zM862 214v5h1v-5zM863 208v8h1v-8zM864 209v9h1v-9zM866 208v5h1v-5zM867 211v3h1v-3zM869 215v3h1v-3zM874 223v4h1v-4zM875 222v5h1v-5zM878 218v4h1v-4zM879 214v8h1v-8zM880 219v3h1v-3zM883 222v5h1v-5zM884 222v7h1v-7zM885 226v5h1v-5zM887 231v6h1v-6zM888 231v6h1v-6zM889 228v5h1v-5zM890 228v6h1v-6zM891 223v6h1v-6zM893 225v9h1v-9zM895 239v11h1v-11zM896 244v6h1v-6zM898 243v10h1v-10zM901 253v7h1v-7zM902 257v8h1v-8zM903 262v10h1v-10zM904 263v10h1v-10zM905 254v11h1v-11zM906 248v15h1v-15zM907 245v8h1v-8zM908 245v3h1v-3zM909 243v5h1v-5zM922 272v10h1v-10zM923 273v8h1v-8zM924 272v13h1v-13zM925 268v12h1v-12zM927 259v6h1v-6zM928 253v9h1v-9zM929 255v6h1v-6zM930 253v7h1v-7zM931 255v6h1v-6zM935 263v7h1v-7zM936 257v9h1v-9zM937 254v8h1v-8zM938 256v4h1v-4zM943 259v6h1v-6zM945 256v8h1v-8zM946 249v9h1v-9zM950 259v8h1v-8zM951 258v3h1v-3zM952 252v6h1v-6zM958 253v7h1v-7zM959 251v8h1v-8zM960 243v10h1v-10zM961 237v12h1v-12zM962 236v6h1v-6zM963 239v6h1v-6zM965 239v8h1v-8zM966 245v3h1v-3zM967 241v10h1v-10zM968 236v9h1v-9zM969 235v6h1v-6zM970 238v6h1v-6zM971 238v8h1v-8zM975 244v9h1v-9zM977 245v4h1v-4zM978 244v5h1v-5zM979 245v5h1v-5zM980 243v3h1v-3zM982 242v7h1v-7zM983 241v8h1v-8zM984 238v8h1v-8zM987 233v6h1v-6zM988 231v6h1v-6zM990 233v5h1v-5zM993 232v6h1v-6zM994 236v5h1v-5zM996 232v5h1v-5zM998 232v6h1v-6zM1000 240v9h1v-9zM1001 241v10h1v-10zM1002 243v12h1v-12zM1004 237v6h1v-6zM1008 251v7h1v-7zM1010 249v8h1v-8zM1011 249v6h1v-6zM1012 245v12h1v-12zM1014 249v3h1v-3zM1015 248v8h1v-8zM1023 264v4h1v-4zM1025 259v9h1v-9zM1026 261v6h1v-6zM1030 275v3h1v-3zM1033 257v14h1v-14zM1034 253v13h1v-13zM1036 259v8h1v-8zM1038 260v10h1v-10zM1040 247v11h1v-11zM1041 247v4h1v-4zM1042 244v5h1v-5zM1043 241v4h1v-4zM1044 235v7h1v-7zM1045 229v8h1v-8zM1048 223v8h1v-8zM1049 222v8h1v-8zM1050 220v8h1v-8zM1053 224v7h1v-7zM1054 227v7h1v-7zM1056 231v4h1v-4zM1057 230v6h1v-6zM1058 229v6h1v-6zM1059 230v3h1v-3zM1060 228v6h1v-6zM1063 234v9h1v-9zM1067 234v6h1v-6zM1068 233v6h1v-6zM1072 239v4h1v-4zM1074 247v4h1v-4zM1077 250v4h1v-4zM1078 252v3h1v-3zM1080 250v3h1v-3zM1081 247v7h1v-7zM1082 245v6h1v-6zM1084 244v7h1v-7zM1086 233v10h1v-10zM1087 232v8h1v-8zM1089 238v3h1v-3zM1091 236v11h1v-11zM1092 237v12h1v-12zM1093 242v5h1v-5zM1095 245v6h1v-6zM1096 244v10h1v-10zM1097 246v6h1v-6zM1099 249v4h1v-4zM1100 246v10h1v-10zM1102 239v7h1v-7zM1103 238v4h1v-4zM1104 232v12h1v-12zM1105 223v12h1v-12zM1107 222v6h1v-6zM1109 223v6h1v-6zM1110 223v3h1v-3zM1111 218v11h1v-11zM1115 219v6h1v-6zM1116 212v13h1v-13zM1117 213v5h1v-5zM1119 212v5h1v-5zM1120 212v4h1v-4zM1121 211v5h1v-5zM1122 210v5h1v-5zM1124 208v6h1v-6zM1126 205v8h1v-8zM1130 202v13h1v-13zM1132 199v10h1v-10zM1133 197v9h1v-9zM1138 211v8h1v-8zM1143 232v5h1v-5zM1144 231v3h1v-3zM1145 228v5h1v-5zM1149 231v4h1v-4zM1152 234v5h1v-5zM1153 232v3h1v-3zM1154 225v10h1v-10zM1157 225v5h1v-5zM1162 227v8h1v-8zM1163 226v10h1v-10zM1164 224v11h1v-11zM1165 216v13h1v-13zM1168 204v8h1v-8zM1173 209v6h1v-6zM1174 205v8h1v-8zM1175 202v6h1v-6zM1179 192v7h1v-7zM1184 204v9h1v-9zM1185 207v6h1v-6zM1188 207v10h1v-10zM1190 205v5h1v-5zM1193 208v14h1v-14zM1194 207v9h1v-9zM1195 203v4h1v-4zM1196 202v5h1v-5zM1197 194v13h1v-13zM1198 194v4h1v-4zM1199 190v8h1v-8zM1201 185v9h1v-9zM1202 186v5h1v-5zM1207 193v7h1v-7zM1208 192v8h1v-8zM1210 186v5h1v-5zM1211 184v4h1v-4zM1213 174v8h1v-8zM1219 165v10h1v-10zM1222 157v8h1v-8zM1223 152v7h1v-7zM1224 147v7h1v-7zM1227 149v6h1v-6zM1230 159v9h1v-9zM1232 164v6h1v-6zM1234 161v11h1v-11zM1235 157v9h1v-9zM1236 157v7h1v-7zM1237 150v13h1v-13zM1239 156v5h1v-5zM1246 157v7h1v-7zM1248 158v6h1v-6zM1249 163v3h1v-3zM1252 157v7h1v-7zM1253 154v5h1v-5zM1254 149v9h1v-9zM1257 153v9h1v-9zM1260 163v13h1v-13zM1267 157v3h1v-3zM1271 166v13h1v-13zM1272 175v5h1v-5zM1273 175v4h1v-4zM1274 173v6h1v-6zM1275 166v11h1v-11zM1276 166v7h1v-7zM1277 165v3h1v-3zM1279 161v9h1v-9zM1281 156v10h1v-10zM1282 159v3h1v-3zM1285 153v8h1v-8zM1287 145v9h1v-9zM1288 139v10h1v-10zM1289 137v11h1v-11zM1290 140v4h1v-4zM1291 135v10h1v-10zM1292 131v7h1v-7zM1294 123v9h1v-9zM1295 120v5h1v-5zM1305 142v9h1v-9zM1307 138v9h1v-9zM1308 134v8h1v-8zM1310 130v7h1v-7zM1312 133v8h1v-8zM1315 140v5h1v-5zM1317 144v3h1v-3zM1320 149v5h1v-5zM1329 159v5h1v-5zM1331 161v3h1v-3zM1335 158v7h1v-7zM1336 151v8h1v-8zM1337 151v10h1v-10zM1338 151v3h1v-3zM1339 143v9h1v-9zM1342 139v8h1v-8zM1348 139v7h1v-7zM1351 141v6h1v-6zM1352 139v6h1v-6zM1353 140v5h1v-5zM1354 137v10h1v-10zM1355 138v12h1v-12zM1356 136v8h1v-8zM1357 137v4h1v-4zM1359 133v6h1v-6zM1361 130v3h1v-3zM1363 132v4h1v-4zM1365 134v5h1v-5zM1368 152v6h1v-6zM1370 157v6h1v-6zM1373 155v7h1v-7zM1377 158v7h1v-7zM1379 163v4h1v-4zM1380 161v5h1v-5zM1381 162v7h1v-7zM1382 159v5h1v-5zM1384 166v3h1v-3zM1385 165v4h1v-4zM1386 161v8h1v-8zM1388 146v13h1v-13zM1389 147v7h1v-7zM1390 142v9h1v-9zM1395 145v7h1v-7zM1396 144v6h1v-6zM1397 144v6h1v-6zM1398 144v7h1v-7zM1399 148v3h1v-3zM1401 143v12h1v-12zM1402 143v11h1v-11zM1403 139v14h1v-14zM1404 136v10h1v-10zM1405 132v7h1v-7zM1406 133v5h1v-5zM1407 130v7h1v-7zM1408 128v9h1v-9zM1411 134v5h1v-5zM1415 136v8h1v-8zM1416 136v8h1v-8zM1417 133v4h1v-4zM1418 128v9h1v-9zM1420 131v6h1v-6zM1426 158v8h1v-8zM1427 158v6h1v-6zM1430 143v11h1v-11zM1433 148v3h1v-3zM1435 133v11h1v-11zM1436 125v9h1v-9zM1438 122v7h1v-7zM1439 119v13h1v-13zM1440 119v6h1v-6zM1443 113v15h1v-15zM1444 109v10h1v-10zM1446 96v9h1v-9zM1447 96v6h1v-6zM1448 92v8h1v-8zM1449 83v12h1v-12zM1450 83v8h1v-8zM1452 81v12h1v-12zM1455 102v4h1v-4zM1457 106v8h1v-8zM1458 106v12h1v-12zM1459 109v7h1v-7zM1460 107v8h1v-8zM1462 107v12h1v-12zM1467 117v7h1v-7zM1469 124v7h1v-7zM1471 120v4h1v-4zM1472 116v7h1v-7zM1473 116v10h1v-10zM1474 111v13h1v-13zM1475 104v14h1v-14zM1478 119v8h1v-8zM1479 117v8h1v-8zM1480 116v14h1v-14zM1482 120v7h1v-7zM1483 114v11h1v-11zM1488 118v4h1v-4zM1489 111v12h1v-12zM1490 107v11h1v-11zM1493 113v5h1v-5zM1494 109v9h1v-9zM1495 101v11h1v-11zM1497 101v8h1v-8zM1499 96v7h1v-7zM1501 93v7h1v-7zM1502 92v3h1v-3zM1504 90v12h1v-12zM1505 92v4h1v-4zM1506 86v6h1v-6zM1507 87v9h1v-9zM1510 94v6h1v-6zM1511 87v11h1v-11zM1512 86v6h1v-6zM1515 88v6h1v-6zM1516 85v7h1v-7zM1519 86v18h1v-18zM1520 96v13h1v-13zM1521 102v7h1v-7zM1522 95v11h1v-11zM1524 92v3h1v-3zM1530 101v7h1v-7zM1531 93v11h1v-11zM1532 92v3h1v-3zM1533 92v3h1v-3z" fill="#26a69a"/><path d="M48 672v3h1v-3zM52 663v5h1v-5zM54 660v3h1v-3zM56 659v3h1v-3zM57 656v11h1v-11zM58 660v7h1v-7zM59 663v6h1v-6zM60 665v10h1v-10zM61 669v5h1v-5zM63 668v9h1v-9zM64 669v13h1v-13zM65 676v12h1v-12zM66 682v9h1v-9zM67 686v4h1v-4zM72 674v8h1v-8zM73 674v9h1v-9zM75 681v7h1v-7zM77 691v14h1v-14zM78 696v8h1v-8zM79 693v7h1v-7zM83 675v14h1v-14zM85 669v12h1v-12zM87 679v6h1v-6zM88 682v5h1v-5zM89 684v7h1v-7zM92 683v5h1v-5zM93 682v5h1v-5zM97 662v13h1v-13zM98 667v8h1v-8zM99 669v8h1v-8zM100 674v12h1v-12zM101 678v8h1v-8zM105 674v11h1v-11zM106 682v3h1v-3zM107 682v3h1v-3zM113 651v17h1v-17zM117 629v8h1v-8zM119 628v13h1v-13zM120 636v9h1v-9zM121 638v10h1v-10zM122 644v4h1v-4zM123 642v8h1v-8zM124 637v10h1v-10zM126 630v4h1v-4zM127 625v10h1v-10zM129 633v9h1v-9zM130 634v10h1v-10zM131 635v7h1v-7zM134 628v3h1v-3zM135 622v9h1v-9zM136 621v6h1v-6zM137 617v9h1v-9zM139 623v6h1v-6zM141 624v9h1v-9zM146 609v3h1v-3zM147 608v8h1v-8zM149 609v5h1v-5zM151 611v3h1v-3zM153 600v9h1v-9zM154 603v6h1v-6zM161 584v7h1v-7zM163 587v7h1v-7zM165 586v5h1v-5zM166 589v3h1v-3zM167 581v9h1v-9zM174 557v3h1v-3zM176 551v7h1v-7zM177 551v4h1v-4zM181 553v8h1v-8zM185 552v15h1v-15zM194 559v7h1v-7zM195 564v6h1v-6zM201 539v12h1v-12zM205 531v3h1v-3zM206 529v10h1v-10zM208 537v3h1v-3zM213 524v4h1v-4zM214 520v6h1v-6zM217 528v9h1v-9zM219 537v3h1v-3zM220 538v8h1v-8zM222 535v9h1v-9zM223 532v8h1v-8zM224 533v8h1v-8zM225 535v11h1v-11zM227 546v6h1v-6zM233 535v5h1v-5zM234 535v10h1v-10zM235 538v5h1v-5zM236 540v7h1v-7zM239 546v9h1v-9zM240 549v6h1v-6zM241 549v9h1v-9zM244 544v9h1v-9zM245 537v10h1v-10zM247 534v5h1v-5zM250 526v7h1v-7zM254 518v7h1v-7zM256 522v10h1v-10zM258 534v10h1v-10zM259 540v5h1v-5zM263 535v8h1v-8zM264 540v4h1v-4zM265 542v4h1v-4zM266 541v10h1v-10zM268 546v5h1v-5zM270 546v3h1v-3zM279 528v11h1v-11zM285 504v3h1v-3zM287 503v6h1v-6zM288 502v10h1v-10zM289 505v8h1v-8zM290 511v9h1v-9zM291 516v11h1v-11zM292 516v7h1v-7zM293 515v7h1v-7zM299 505v6h1v-6zM302 501v7h1v-7zM303 499v6h1v-6zM305 501v3h1v-3zM306 501v6h1v-6zM307 504v5h1v-5zM311 490v9h1v-9zM317 468v10h1v-10zM322 461v3h1v-3zM323 461v3h1v-3zM324 459v9h1v-9zM326 467v4h1v-4zM328 473v3h1v-3zM329 471v11h1v-11zM330 472v9h1v-9zM331 474v5h1v-5zM337 467v8h1v-8zM338 473v7h1v-7zM343 466v6h1v-6zM345 457v10h1v-10zM346 460v6h1v-6zM349 450v9h1v-9zM350 451v3h1v-3zM353 446v6h1v-6zM354 442v5h1v-5zM357 438v5h1v-5zM358 437v8h1v-8zM359 437v11h1v-11zM361 446v9h1v-9zM362 448v4h1v-4zM366 448v3h1v-3zM368 447v7h1v-7zM372 426v8h1v-8zM373 425v12h1v-12zM374 436v6h1v-6zM375 434v12h1v-12zM376 441v5h1v-5zM379 432v5h1v-5zM381 431v8h1v-8zM384 442v3h1v-3zM385 442v6h1v-6zM387 443v11h1v-11zM388 448v5h1v-5zM391 452v3h1v-3zM395 450v5h1v-5zM397 458v14h1v-14zM398 467v9h1v-9zM401 461v12h1v-12zM402 461v8h1v-8zM403 460v7h1v-7zM405 460v5h1v-5zM406 460v11h1v-11zM407 465v11h1v-11zM412 454v7h1v-7zM413 460v6h1v-6zM414 464v8h1v-8zM416 469v5h1v-5zM417 471v7h1v-7zM419 470v3h1v-3zM420 470v6h1v-6zM422 469v12h1v-12zM423 475v8h1v-8zM425 474v11h1v-11zM426 479v9h1v-9zM428 484v8h1v-8zM429 490v3h1v-3zM432 486v6h1v-6zM434 485v8h1v-8zM435 487v8h1v-8zM436 490v8h1v-8zM438 493v7h1v-7zM440 503v8h1v-8zM441 506v6h1v-6zM443 504v6h1v-6zM444 506v4h1v-4zM445 506v5h1v-5zM446 505v7h1v-7zM447 505v5h1v-5zM449 505v10h1v-10zM450 513v8h1v-8zM451 515v7h1v-7zM452 512v9h1v-9zM454 499v8h1v-8zM457 494v12h1v-12zM458 499v3h1v-3zM459 497v7h1v-7zM460 497v6h1v-6zM464 506v6h1v-6zM466 509v11h1v-11zM476 484v10h1v-10zM478 491v7h1v-7zM479 493v8h1v-8zM480 490v12h1v-12zM484 471v6h1v-6zM485 465v10h1v-10zM487 467v4h1v-4zM489 459v14h1v-14zM495 429v3h1v-3zM498 412v11h1v-11zM499 418v8h1v-8zM500 420v10h1v-10zM501 428v10h1v-10zM502 430v4h1v-4zM506 416v5h1v-5zM507 419v9h1v-9zM509 428v5h1v-5zM510 430v8h1v-8zM511 431v10h1v-10zM516 435v3h1v-3zM517 435v8h1v-8zM522 433v8h1v-8zM523 438v6h1v-6zM531 429v4h1v-4zM538 415v9h1v-9zM542 416v5h1v-5zM545 413v4h1v-4zM548 397v14h1v-14zM551 390v3h1v-3zM552 388v7h1v-7zM553 395v8h1v-8zM556 403v6h1v-6zM558 404v6h1v-6zM559 406v10h1v-10zM560 406v8h1v-8zM568 398v5h1v-5zM570 391v7h1v-7zM571 395v5h1v-5zM574 391v7h1v-7zM575 392v6h1v-6zM580 393v11h1v-11zM581 401v3h1v-3zM582 398v9h1v-9zM583 401v15h1v-15zM584 409v10h1v-10zM585 412v8h1v-8zM586 418v5h1v-5zM587 416v13h1v-13zM588 425v5h1v-5zM591 424v5h1v-5zM594 426v6h1v-6zM598 430v10h1v-10zM599 438v7h1v-7zM600 423v27h1v-27zM603 313v7h1v-7zM604 313v5h1v-5zM614 272v13h1v-13zM615 268v9h1v-9zM616 269v7h1v-7zM619 264v6h1v-6zM621 268v16h1v-16zM622 278v10h1v-10zM625 277v7h1v-7zM627 273v4h1v-4zM630 266v6h1v-6zM634 259v9h1v-9zM635 264v8h1v-8zM640 253v7h1v-7zM642 258v8h1v-8zM643 257v9h1v-9zM645 262v3h1v-3zM646 256v8h1v-8zM650 249v5h1v-5zM651 250v9h1v-9zM654 241v9h1v-9zM655 241v4h1v-4zM658 239v6h1v-6zM662 242v5h1v-5zM663 238v8h1v-8zM664 232v11h1v-11zM666 234v4h1v-4zM667 233v8h1v-8zM668 238v9h1v-9zM669 241v12h1v-12zM676 226v9h1v-9zM678 226v12h1v-12zM679 236v6h1v-6zM681 236v13h1v-13zM682 239v3h1v-3zM683 235v7h1v-7zM685 236v4h1v-4zM686 231v8h1v-8zM691 219v6h1v-6zM692 220v9h1v-9zM693 226v8h1v-8zM694 229v13h1v-13zM695 235v10h1v-10zM701 234v4h1v-4zM702 236v4h1v-4zM703 237v5h1v-5zM706 239v6h1v-6zM707 243v7h1v-7zM708 243v4h1v-4zM712 243v6h1v-6zM716 238v8h1v-8zM719 244v9h1v-9zM720 243v14h1v-14zM722 244v5h1v-5zM728 229v5h1v-5zM730 238v8h1v-8zM731 241v6h1v-6zM736 207v15h1v-15zM737 209v4h1v-4zM739 206v5h1v-5zM740 208v5h1v-5zM742 212v12h1v-12zM744 218v6h1v-6zM746 219v5h1v-5zM747 222v3h1v-3zM755 197v6h1v-6zM756 199v5h1v-5zM758 198v9h1v-9zM759 203v12h1v-12zM760 208v10h1v-10zM762 216v4h1v-4zM763 217v4h1v-4zM764 213v6h1v-6zM765 216v7h1v-7zM767 225v6h1v-6zM768 229v5h1v-5zM769 229v11h1v-11zM770 231v10h1v-10zM771 236v4h1v-4zM773 239v10h1v-10zM776 223v13h1v-13zM778 219v3h1v-3zM779 218v5h1v-5zM780 221v5h1v-5zM781 217v7h1v-7zM782 220v5h1v-5zM783 216v7h1v-7zM787 224v7h1v-7zM788 226v7h1v-7zM790 233v3h1v-3zM793 228v7h1v-7zM794 227v7h1v-7zM796 225v5h1v-5zM797 223v4h1v-4zM798 220v7h1v-7zM799 220v6h1v-6zM800 218v4h1v-4zM801 215v9h1v-9zM805 203v8h1v-8zM806 207v6h1v-6zM808 208v8h1v-8zM809 208v10h1v-10zM810 208v7h1v-7zM811 208v7h1v-7zM814 203v10h1v-10zM815 205v5h1v-5zM816 203v6h1v-6zM818 205v4h1v-4zM820 199v6h1v-6zM821 199v9h1v-9zM824 195v7h1v-7zM828 189v8h1v-8zM829 194v7h1v-7zM832 196v8h1v-8zM835 191v5h1v-5zM838 193v3h1v-3zM842 193v4h1v-4zM843 190v8h1v-8zM844 197v4h1v-4zM845 198v12h1v-12zM846 202v11h1v-11zM847 204v12h1v-12zM848 214v7h1v-7zM854 194v9h1v-9zM855 195v11h1v-11zM856 198v10h1v-10zM858 213v7h1v-7zM860 213v9h1v-9zM865 208v4h1v-4zM868 211v9h1v-9zM870 214v5h1v-5zM871 215v7h1v-7zM872 218v5h1v-5zM873 220v8h1v-8zM876 219v8h1v-8zM877 217v8h1v-8zM881 219v6h1v-6zM882 223v4h1v-4zM886 224v9h1v-9zM892 221v8h1v-8zM894 232v10h1v-10zM897 246v6h1v-6zM899 247v4h1v-4zM900 246v12h1v-12zM910 242v10h1v-10zM911 251v3h1v-3zM912 248v8h1v-8zM913 248v4h1v-4zM914 246v10h1v-10zM915 253v3h1v-3zM916 254v8h1v-8zM917 256v3h1v-3zM918 256v5h1v-5zM919 257v11h1v-11zM920 263v10h1v-10zM921 266v13h1v-13zM926 259v15h1v-15zM932 254v13h1v-13zM933 263v8h1v-8zM934 266v5h1v-5zM939 254v6h1v-6zM940 257v7h1v-7zM941 263v5h1v-5zM942 263v7h1v-7zM944 259v3h1v-3zM947 247v10h1v-10zM948 249v14h1v-14zM949 256v11h1v-11zM953 251v4h1v-4zM954 249v7h1v-7zM955 250v7h1v-7zM956 253v8h1v-8zM957 256v5h1v-5zM964 239v5h1v-5zM972 240v7h1v-7zM973 244v6h1v-6zM974 245v8h1v-8zM976 246v4h1v-4zM981 245v3h1v-3zM985 240v3h1v-3zM986 236v8h1v-8zM989 235v3h1v-3zM991 231v11h1v-11zM992 230v9h1v-9zM995 234v5h1v-5zM997 234v3h1v-3zM999 231v13h1v-13zM1003 239v10h1v-10zM1005 234v12h1v-12zM1006 242v9h1v-9zM1007 245v16h1v-16zM1009 248v7h1v-7zM1013 250v3h1v-3zM1016 246v6h1v-6zM1017 246v8h1v-8zM1018 251v9h1v-9zM1019 254v7h1v-7zM1020 259v8h1v-8zM1021 265v7h1v-7zM1022 266v3h1v-3zM1024 261v7h1v-7zM1027 265v7h1v-7zM1028 268v5h1v-5zM1029 268v8h1v-8zM1031 274v8h1v-8zM1032 267v9h1v-9zM1035 254v10h1v-10zM1037 264v6h1v-6zM1039 255v10h1v-10zM1046 225v8h1v-8zM1047 225v9h1v-9zM1051 221v6h1v-6zM1052 224v9h1v-9zM1055 229v6h1v-6zM1061 229v9h1v-9zM1062 235v3h1v-3zM1064 236v8h1v-8zM1065 235v8h1v-8zM1066 232v6h1v-6zM1069 232v6h1v-6zM1070 235v4h1v-4zM1071 236v6h1v-6zM1073 241v7h1v-7zM1075 247v5h1v-5zM1076 246v7h1v-7zM1079 248v8h1v-8zM1083 244v7h1v-7zM1085 238v8h1v-8zM1088 230v9h1v-9zM1090 235v8h1v-8zM1094 240v7h1v-7zM1098 247v4h1v-4zM1101 239v9h1v-9zM1106 221v9h1v-9zM1108 224v6h1v-6zM1112 221v4h1v-4zM1113 215v8h1v-8zM1114 218v6h1v-6zM1118 211v7h1v-7zM1123 210v7h1v-7zM1125 208v3h1v-3zM1127 211v5h1v-5zM1128 208v8h1v-8zM1129 207v8h1v-8zM1131 204v5h1v-5zM1134 195v9h1v-9zM1135 195v14h1v-14zM1136 202v11h1v-11zM1137 210v4h1v-4zM1139 215v10h1v-10zM1140 220v8h1v-8zM1141 227v7h1v-7zM1142 228v10h1v-10zM1146 226v6h1v-6zM1147 224v8h1v-8zM1148 227v8h1v-8zM1150 231v5h1v-5zM1151 232v11h1v-11zM1155 221v14h1v-14zM1156 225v7h1v-7zM1158 225v5h1v-5zM1159 224v5h1v-5zM1160 226v5h1v-5zM1161 223v8h1v-8zM1166 205v12h1v-12zM1167 205v7h1v-7zM1169 206v5h1v-5zM1170 209v5h1v-5zM1171 207v10h1v-10zM1172 210v8h1v-8zM1176 200v4h1v-4zM1177 198v8h1v-8zM1178 197v4h1v-4zM1180 189v8h1v-8zM1181 192v10h1v-10zM1182 194v11h1v-11zM1183 200v11h1v-11zM1186 208v9h1v-9zM1187 214v4h1v-4zM1189 207v5h1v-5zM1191 207v12h1v-12zM1192 215v6h1v-6zM1200 192v6h1v-6zM1203 187v3h1v-3zM1204 182v8h1v-8zM1205 186v8h1v-8zM1206 190v12h1v-12zM1209 189v6h1v-6zM1212 178v9h1v-9zM1214 170v5h1v-5zM1215 169v7h1v-7zM1216 171v7h1v-7zM1217 171v5h1v-5zM1218 171v3h1v-3zM1220 162v6h1v-6zM1221 159v4h1v-4zM1225 145v8h1v-8zM1226 146v6h1v-6zM1228 152v10h1v-10zM1229 155v8h1v-8zM1231 159v8h1v-8zM1233 165v7h1v-7zM1238 153v9h1v-9zM1240 157v6h1v-6zM1241 155v6h1v-6zM1242 157v8h1v-8zM1243 160v3h1v-3zM1244 157v7h1v-7zM1245 159v3h1v-3zM1247 158v7h1v-7zM1250 161v8h1v-8zM1251 161v10h1v-10zM1255 153v5h1v-5zM1256 155v3h1v-3zM1258 159v5h1v-5zM1259 162v7h1v-7zM1261 171v5h1v-5zM1262 172v4h1v-4zM1263 159v14h1v-14zM1264 152v11h1v-11zM1265 151v6h1v-6zM1266 152v11h1v-11zM1268 153v4h1v-4zM1269 156v11h1v-11zM1270 162v12h1v-12zM1278 165v5h1v-5zM1280 159v7h1v-7zM1283 153v8h1v-8zM1284 152v10h1v-10zM1286 146v10h1v-10zM1293 125v8h1v-8zM1296 119v3h1v-3zM1297 119v3h1v-3zM1298 117v8h1v-8zM1299 117v4h1v-4zM1300 119v7h1v-7zM1301 120v14h1v-14zM1302 129v5h1v-5zM1303 129v16h1v-16zM1304 138v8h1v-8zM1306 141v11h1v-11zM1309 128v10h1v-10zM1311 131v4h1v-4zM1313 133v11h1v-11zM1314 138v8h1v-8zM1316 138v7h1v-7zM1318 144v6h1v-6zM1319 148v5h1v-5zM1321 147v12h1v-12zM1322 155v4h1v-4zM1323 157v3h1v-3zM1324 154v9h1v-9zM1325 156v6h1v-6zM1326 155v4h1v-4zM1327 157v3h1v-3zM1328 154v8h1v-8zM1330 159v5h1v-5zM1332 161v7h1v-7zM1333 163v3h1v-3zM1334 160v6h1v-6zM1340 142v5h1v-5zM1341 141v4h1v-4zM1343 135v9h1v-9zM1344 142v3h1v-3zM1345 144v3h1v-3zM1346 142v6h1v-6zM1347 140v6h1v-6zM1349 145v3h1v-3zM1350 143v6h1v-6zM1358 137v3h1v-3zM1360 129v5h1v-5zM1362 132v4h1v-4zM1364 133v4h1v-4zM1366 138v7h1v-7zM1367 138v19h1v-19zM1369 155v4h1v-4zM1371 159v3h1v-3zM1372 154v8h1v-8zM1374 160v3h1v-3zM1375 158v8h1v-8zM1376 156v10h1v-10zM1378 158v8h1v-8zM1383 160v12h1v-12zM1387 154v8h1v-8zM1391 141v4h1v-4zM1392 140v5h1v-5zM1393 140v5h1v-5zM1394 140v8h1v-8zM1400 142v11h1v-11zM1409 133v5h1v-5zM1410 132v8h1v-8zM1412 134v4h1v-4zM1413 134v4h1v-4zM1414 134v6h1v-6zM1419 126v8h1v-8zM1421 135v6h1v-6zM1422 138v10h1v-10zM1423 146v9h1v-9zM1424 152v8h1v-8zM1425 155v11h1v-11zM1428 153v8h1v-8zM1429 149v5h1v-5zM1431 142v5h1v-5zM1432 144v6h1v-6zM1434 141v11h1v-11zM1437 125v5h1v-5zM1441 119v3h1v-3zM1442 119v5h1v-5zM1445 99v14h1v-14zM1451 80v7h1v-7zM1453 88v15h1v-15zM1454 94v11h1v-11zM1456 101v11h1v-11zM1461 106v6h1v-6zM1463 115v4h1v-4zM1464 116v7h1v-7zM1465 122v3h1v-3zM1466 115v8h1v-8zM1468 120v14h1v-14zM1470 116v8h1v-8zM1476 103v18h1v-18zM1477 118v10h1v-10zM1481 124v4h1v-4zM1484 109v9h1v-9zM1485 109v3h1v-3zM1486 109v6h1v-6zM1487 114v11h1v-11zM1491 107v12h1v-12zM1492 114v3h1v-3zM1496 102v4h1v-4zM1498 96v6h1v-6zM1500 96v7h1v-7zM1503 93v8h1v-8zM1508 92v10h1v-10zM1509 97v4h1v-4zM1513 86v6h1v-6zM1514 88v8h1v-8zM1517 84v8h1v-8zM1518 87v6h1v-6zM1523 90v14h1v-14zM1525 91v14h1v-14zM1526 97v7h1v-7zM1527 102v6h1v-6zM1528 105v8h1v-8zM1529 105v4h1v-4z" fill="#ef5350"/></g>
<rect x="590" y="178" width="487" height="402" fill="none" stroke="#1f55ff" stroke-width="2"/>
<g font-size="11" fill="#3c4653"><text x="590.0" y="175" text-anchor="middle">1764120231</text><text x="590.0" y="596" text-anchor="middle">1764120231</text><text x="687.4" y="175" text-anchor="middle">1764120368</text><text x="687.4" y="596" text-anchor="middle">1764120368</text><text x="784.8" y="175" text-anchor="middle">1764120504</text><text x="784.8" y="596" text-anchor="middle">1764120504</text><text x="882.2" y="175" text-anchor="middle">1764120641</text><text x="882.2" y="596" text-anchor="middle">1764120641</text><text x="979.6" y="175" text-anchor="middle">1764120777</text><text x="979.6" y="596" text-anchor="middle">1764120777</text><text x="1077.0" y="175" text-anchor="middle">1764120914</text><text x="1077.0" y="596" text-anchor="middle">1764120914</text><text x="583.5" y="583.0" text-anchor="end">67020.85</text><text x="1083" y="583.0">67020.85</text><text x="583.5" y="502.6" text-anchor="end">67092.80</text><text x="1083" y="502.6">67092.80</text><text x="583.5" y="422.2" text-anchor="end">67164.75</text><text x="1083" y="422.2">67164.75</text><text x="583.5" y="341.8" text-anchor="end">67236.70</text><text x="1083" y="341.8">67236.70</text><text x="583.5" y="261.4" text-anchor="end">67308.66</text><text x="1083" y="261.4">67308.66</text><text x="583.5" y="181.0" text-anchor="end">67380.61</text><text x="1083" y="181.0">67380.61</text></g><g font-size="10" fill="#3c4653" text-anchor="middle"><text x="708" y="382">-60°</text><text x="833.5" y="382">-40°</text><text x="833.5" y="496">-20°</text></g>
<path d="M48 92h2v1h-2zM52 92h2v1h-2zM56 92h2v1h-2zM60 92h2v1h-2zM64 92h2v1h-2zM68 92h2v1h-2zM72 92h2v1h-2zM76 92h2v1h-2zM80 92h2v1h-2zM84 92h2v1h-2zM88 92h2v1h-2zM92 92h2v1h-2zM96 92h2v1h-2zM100 92h2v1h-2zM104 92h2v1h-2zM108 92h2v1h-2zM112 92h2v1h-2zM116 92h2v1h-2zM120 92h2v1h-2zM124 92h2v1h-2zM128 92h2v1h-2zM132 92h2v1h-2zM136 92h2v1h-2zM140 92h2v1h-2zM144 92h2v1h-2zM148 92h2v1h-2zM152 92h2v1h-2zM156 92h2v1h-2zM160 92h2v1h-2zM164 92h2v1h-2zM168 92h2v1h-2zM172 92h2v1h-2zM176 92h2v1h-2zM180 92h2v1h-2zM184 92h2v1h-2zM188 92h2v1h-2zM192 92h2v1h-2zM196 92h2v1h-2zM200 92h2v1h-2zM204 92h2v1h-2zM208 92h2v1h-2zM212 92h2v1h-2zM216 92h2v1h-2zM220 92h2v1h-2zM224 92h2v1h-2zM228 92h2v1h-2zM232 92h2v1h-2zM236 92h2v1h-2zM240 92h2v1h-2zM244 92h2v1h-2zM248 92h2v1h-2zM252 92h2v1h-2zM256 92h2v1h-2zM260 92h2v1h-2zM264 92h2v1h-2zM268 92h2v1h-2zM272 92h2v1h-2zM276 92h2v1h-2zM280 92h2v1h-2zM284 92h2v1h-2zM288 92h2v1h-2zM292 92h2v1h-2zM296 92h2v1h-2zM300 92h2v1h-2zM304 92h2v1h-2zM308 92h2v1h-2zM312 92h2v1h-2zM316 92h2v1h-2zM320 92h2v1h-2zM324 92h2v1h-2zM328 92h2v1h-2zM332 92h2v1h-2zM336 92h2v1h-2zM340 92h2v1h-2zM344 92h2v1h-2zM348 92h2v1h-2zM352 92h2v1h-2zM356 92h2v1h-2zM360 92h2v1h-2zM364 92h2v1h-2zM368 92h2v1h-2zM372 92h2v1h-2zM376 92h2v1h-2zM380 92h2v1h-2zM384 92h2v1h-2zM388 92h2v1h-2zM392 92h2v1h-2zM396 92h2v1h-2zM400 92h2v1h-2zM404 92h2v1h-2zM408 92h2v1h-2zM412 92h2v1h-2zM416 92h2v1h-2zM420 92h2v1h-2zM424 92h2v1h-2zM428 92h2v1h-2zM432 92h2v1h-2zM436 92h2v1h-2zM440 92h2v1h-2zM444 92h2v1h-2zM448 92h2v1h-2zM452 92h2v1h-2zM456 92h2v1h-2zM460 92h2v1h-2zM464 92h2v1h-2zM468 92h2v1h-2zM472 92h2v1h-2zM476 92h2v1h-2zM480 92h2v1h-2zM484 92h2v1h-2zM488 92h2v1h-2zM492 92h2v1h-2zM496 92h2v1h-2zM500 92h2v1h-2zM504 92h2v1h-2zM508 92h2v1h-2zM512 92h2v1h-2zM516 92h2v1h-2zM520 92h2v1h-2zM524 92h2v1h-2zM528 92h2v1h-2zM532 92h2v1h-2zM536 92h2v1h-2zM540 92h2v1h-2zM544 92h2v1h-2zM548 92h2v1h-2zM552 92h2v1h-2zM556 92h2v1h-2zM560 92h2v1h-2zM564 92h2v1h-2zM568 92h2v1h-2zM572 92h2v1h-2zM576 92h2v1h-2zM580 92h2v1h-2zM584 92h2v1h-2zM588 92h2v1h-2zM592 92h2v1h-2zM596 92h2v1h-2zM600 92h2v1h-2zM604 92h2v1h-2zM608 92h2v1h-2zM612 92h2v1h-2zM616 92h2v1h-2zM620 92h2v1h-2zM624 92h2v1h-2zM628 92h2v1h-2zM632 92h2v1h-2zM636 92h2v1h-2zM640 92h2v1h-2zM644 92h2v1h-2zM648 92h2v1h-2zM652 92h2v1h-2zM656 92h2v1h-2zM660 92h2v1h-2zM664 92h2v1h-2zM668 92h2v1h-2zM672 92h2v1h-2zM676 92h2v1h-2zM680 92h2v1h-2zM684 92h2v1h-2zM688 92h2v1h-2zM692 92h2v1h-2zM696 92h2v1h-2zM700 92h2v1h-2zM704 92h2v1h-2zM708 92h2v1h-2zM712 92h2v1h-2zM716 92h2v1h-2zM720 92h2v1h-2zM724 92h2v1h-2zM728 92h2v1h-2zM732 92h2v1h-2zM736 92h2v1h-2zM740 92h2v1h-2zM744 92h2v1h-2zM748 92h2v1h-2zM752 92h2v1h-2zM756 92h2v1h-2zM760 92h2v1h-2zM764 92h2v1h-2zM768 92h2v1h-2zM772 92h2v1h-2zM776 92h2v1h-2zM780 92h2v1h-2zM784 92h2v1h-2zM788 92h2v1h-2zM792 92h2v1h-2zM796 92h2v1h-2zM800 92h2v1h-2zM804 92h2v1h-2zM808 92h2v1h-2zM812 92h2v1h-2zM816 92h2v1h-2zM820 92h2v1h-2zM824 92h2v1h-2zM828 92h2v1h-2zM832 92h2v1h-2zM836 92h2v1h-2zM840 92h2v1h-2zM844 92h2v1h-2zM848 92h2v1h-2zM852 92h2v1h-2zM856 92h2v1h-2zM860 92h2v1h-2zM864 92h2v1h-2zM868 92h2v1h-2zM872 92h2v1h-2zM876 92h2v1h-2zM880 92h2v1h-2zM884 92h2v1h-2zM888 92h2v1h-2zM892 92h2v1h-2zM896 92h2v1h-2zM900 92h2v1h-2zM904 92h2v1h-2zM908 92h2v1h-2zM912 92h2v1h-2zM916 92h2v1h-2zM920 92h2v1h-2zM924 92h2v1h-2zM928 92h2v1h-2zM932 92h2v1h-2zM936 92h2v1h-2zM940 92h2v1h-2zM944 92h2v1h-2zM948 92h2v1h-2zM952 92h2v1h-2zM956 92h2v1h-2zM960 92h2v1h-2zM964 92h2v1h-2zM968 92h2v1h-2zM972 92h2v1h-2zM976 92h2v1h-2zM980 92h2v1h-2zM984 92h2v1h-2zM988 92h2v1h-2zM992 92h2v1h-2zM996 92h2v1h-2zM1000 92h2v1h-2zM1004 92h2v1h-2zM1008 92h2v1h-2zM1012 92h2v1h-2zM1016 92h2v1h-2zM1020 92h2v1h-2zM1024 92h2v1h-2zM1028 92h2v1h-2zM1032 92h2v1h-2zM1036 92h2v1h-2zM1040 92h2v1h-2zM1044 92h2v1h-2zM1048 92h2v1h-2zM1052 92h2v1h-2zM1056 92h2v1h-2zM1060 92h2v1h-2zM1064 92h2v1h-2zM1068 92h2v1h-2zM1072 92h2v1h-2zM1076 92h2v1h-2zM1080 92h2v1h-2zM1084 92h2v1h-2zM1088 92h2v1h-2zM1092 92h2v1h-2zM1096 92h2v1h-2zM1100 92h2v1h-2zM1104 92h2v1h-2zM1108 92h2v1h-2zM1112 92h2v1h-2zM1116 92h2v1h-2zM1120 92h2v1h-2zM1124 92h2v1h-2zM1128 92h2v1h-2zM1132 92h2v1h-2zM1136 92h2v1h-2zM1140 92h2v1h-2zM1144 92h2v1h-2zM1148 92h2v1h-2zM1152 92h2v1h-2zM1156 92h2v1h-2zM1160 92h2v1h-2zM1164 92h2v1h-2zM1168 92h2v1h-2zM1172 92h2v1h-2zM1176 92h2v1h-2zM1180 92h2v1h-2zM1184 92h2v1h-2zM1188 92h2v1h-2zM1192 92h2v1h-2zM1196 92h2v1h-2zM1200 92h2v1h-2zM1204 92h2v1h-2zM1208 92h2v1h-2zM1212 92h2v1h-2zM1216 92h2v1h-2zM1220 92h2v1h-2zM1224 92h2v1h-2zM1228 92h2v1h-2zM1232 92h2v1h-2zM1236 92h2v1h-2zM1240 92h2v1h-2zM1244 92h2v1h-2zM1248 92h2v1h-2zM1252 92h2v1h-2zM1256 92h2v1h-2zM1260 92h2v1h-2zM1264 92h2v1h-2zM1268 92h2v1h-2zM1272 92h2v1h-2zM1276 92h2v1h-2zM1280 92h2v1h-2zM1284 92h2v1h-2zM1288 92h2v1h-2zM1292 92h2v1h-2zM1296 92h2v1h-2zM1300 92h2v1h-2zM1304 92h2v1h-2zM1308 92h2v1h-2zM1312 92h2v1h-2zM1316 92h2v1h-2zM1320 92h2v1h-2zM1324 92h2v1h-2zM1328 92h2v1h-2zM1332 92h2v1h-2zM1336 92h2v1h-2zM1340 92h2v1h-2zM1344 92h2v1h-2zM1348 92h2v1h-2zM1352 92h2v1h-2zM1356 92h2v1h-2zM1360 92h2v1h-2zM1364 92h2v1h-2zM1368 92h2v1h-2zM1372 92h2v1h-2zM1376 92h2v1h-2zM1380 92h2v1h-2zM1384 92h2v1h-2zM1388 92h2v1h-2zM1392 92h2v1h-2zM1396 92h2v1h-2zM1400 92h2v1h-2zM1404 92h2v1h-2zM1408 92h2v1h-2zM1412 92h2v1h-2zM1416 92h2v1h-2zM1420 92h2v1h-2zM1424 92h2v1h-2zM1428 92h2v1h-2zM1432 92h2v1h-2zM1436 92h2v1h-2zM1440 92h2v1h-2zM1444 92h2v1h-2zM1448 92h2v1h-2zM1452 92h2v1h-2zM1456 92h2v1h-2zM1460 92h2v1h-2zM1464 92h2v1h-2zM1468 92h2v1h-2zM1472 92h2v1h-2zM1476 92h2v1h-2zM1480 92h2v1h-2zM1484 92h2v1h-2zM1488 92h2v1h-2zM1492 92h2v1h-2zM1496 92h2v1h-2zM1500 92h2v1h-2zM1504 92h2v1h-2zM1508 92h2v1h-2zM1512 92h2v1h-2zM1516 92h2v1h-2zM1520 92h2v1h-2zM1524 92h2v1h-2zM1528 92h2v1h-2zM1532 92h2v1h-2zM1536 92h2v1h-2zM1540 92h2v1h-2zM1544 92h2v1h-2zM1548 92h2v1h-2zM1552 92h2v1h-2zM1556 92h2v1h-2zM1560 92h2v1h-2zM1564 92h2v1h-2zM1568 92h2v1h-2zM1572 92h2v1h-2zM1576 92h2v1h-2zM1580 92h2v1h-2zM1584 92h2v1h-2zM1588 92h2v1h-2zM1592 92h2v1h-2zM1596 92h2v1h-2zM1600 92h2v1h-2zM1604 92h2v1h-2zM1608 92h2v1h-2zM1612 92h2v1h-2zM1616 92h2v1h-2zM1620 92h2v1h-2zM1624 92h2v1h-2zM1628 92h2v1h-2zM1632 92h2v1h-2zM1636 92h2v1h-2zM1640 92h2v1h-2zM1644 92h2v1h-2zM1648 92h2v1h-2zM1652 92h2v1h-2zM1656 92h2v1h-2zM1660 92h2v1h-2zM1664 92h2v1h-2zM1668 92h2v1h-2zM1672 92h2v1h-2zM1676 92h2v1h-2zM1680 92h2v1h-2zM1684 92h2v1h-2zM1688 92h2v1h-2zM1692 92h2v1h-2zM1696 92h2v1h-2zM1700 92h2v1h-2zM1704 92h2v1h-2zM1708 92h2v1h-2zM1712 92h2v1h-2zM1716 92h2v1h-2zM1720 92h2v1h-2zM1724 92h2v1h-2zM1728 92h2v1h-2zM1732 92h2v1h-2zM1736 92h2v1h-2zM1740 92h2v1h-2zM1744 92h2v1h-2zM1748 92h2v1h-2zM1752 92h2v1h-2zM1756 92h2v1h-2zM1760 92h2v1h-2zM1764 92h2v1h-2zM1768 92h2v1h-2zM1772 92h2v1h-2zM1776 92h2v1h-2zM1780 92h2v1h-2zM1784 92h2v1h-2zM1788 92h2v1h-2zM1792 92h2v1h-2zM1796 92h2v1h-2zM1800 92h2v1h-2zM1804 92h2v1h-2zM1808 92h2v1h-2zM1812 92h2v1h-2zM1816 92h2v1h-2zM1820 92h2v1h-2zM1824 92h2v1h-2zM1828 92h2v1h-2zM1832 92h2v1h-2zM1836 92h2v1h-2zM1840 92h2v1h-2z" fill="#26a69a"/><path d="M48 766h2v1h-2zM52 766h2v1h-2zM56 766h2v1h-2zM60 766h2v1h-2zM64 766h2v1h-2zM68 766h2v1h-2zM72 766h2v1h-2zM76 766h2v1h-2zM80 766h2v1h-2zM84 766h2v1h-2zM88 766h2v1h-2zM92 766h2v1h-2zM96 766h2v1h-2zM100 766h2v1h-2zM104 766h2v1h-2zM108 766h2v1h-2zM112 766h2v1h-2zM116 766h2v1h-2zM120 766h2v1h-2zM124 766h2v1h-2zM128 766h2v1h-2zM132 766h2v1h-2zM136 766h2v1h-2zM140 766h2v1h-2zM144 766h2v1h-2zM148 766h2v1h-2zM152 766h2v1h-2zM156 766h2v1h-2zM160 766h2v1h-2zM164 766h2v1h-2zM168 766h2v1h-2zM172 766h2v1h-2zM176 766h2v1h-2zM180 766h2v1h-2zM184 766h2v1h-2zM188 766h2v1h-2zM192 766h2v1h-2zM196 766h2v1h-2zM200 766h2v1h-2zM204 766h2v1h-2zM208 766h2v1h-2zM212 766h2v1h-2zM216 766h2v1h-2zM220 766h2v1h-2zM224 766h2v1h-2zM228 766h2v1h-2zM232 766h2v1h-2zM236 766h2v1h-2zM240 766h2v1h-2zM244 766h2v1h-2zM248 766h2v1h-2zM252 766h2v1h-2zM256 766h2v1h-2zM260 766h2v1h-2zM264 766h2v1h-2zM268 766h2v1h-2zM272 766h2v1h-2zM276 766h2v1h-2zM280 766h2v1h-2zM284 766h2v1h-2zM288 766h2v1h-2zM292 766h2v1h-2zM296 766h2v1h-2zM300 766h2v1h-2zM304 766h2v1h-2zM308 766h2v1h-2zM312 766h2v1h-2zM316 766h2v1h-2zM320 766h2v1h-2zM324 766h2v1h-2zM328 766h2v1h-2zM332 766h2v1h-2zM336 766h2v1h-2zM340 766h2v1h-2zM344 766h2v1h-2zM348 766h2v1h-2zM352 766h2v1h-2zM356 766h2v1h-2zM360 766h2v1h-2zM364 766h2v1h-2zM368 766h2v1h-2zM372 766h2v1h-2zM376 766h2v1h-2zM380 766h2v1h-2zM384 766h2v1h-2zM388 766h2v1h-2zM392 766h2v1h-2zM396 766h2v1h-2zM400 766h2v1h-2zM404 766h2v1h-2zM408 766h2v1h-2zM412 766h2v1h-2zM416 766h2v1h-2zM420 766h2v1h-2zM424 766h2v1h-2zM428 766h2v1h-2zM432 766h2v1h-2zM436 766h2v1h-2zM440 766h2v1h-2zM444 766h2v1h-2zM448 766h2v1h-2zM452 766h2v1h-2zM456 766h2v1h-2zM460 766h2v1h-2zM464 766h2v1h-2zM468 766h2v1h-2zM472 766h2v1h-2zM476 766h2v1h-2zM480 766h2v1h-2zM484 766h2v1h-2zM488 766h2v1h-2zM492 766h2v1h-2zM496 766h2v1h-2zM500 766h2v1h-2zM504 766h2v1h-2zM508 766h2v1h-2zM512 766h2v1h-2zM516 766h2v1h-2zM520 766h2v1h-2zM524 766h2v1h-2zM528 766h2v1h-2zM532 766h2v1h-2zM536 766h2v1h-2zM540 766h2v1h-2zM544 766h2v1h-2zM548 766h2v1h-2zM552 766h2v1h-2zM556 766h2v1h-2zM560 766h2v1h-2zM564 766h2v1h-2zM568 766h2v1h-2zM572 766h2v1h-2zM576 766h2v1h-2zM580 766h2v1h-2zM584 766h2v1h-2zM588 766h2v1h-2zM592 766h2v1h-2zM596 766h2v1h-2zM600 766h2v1h-2zM604 766h2v1h-2zM608 766h2v1h-2zM612 766h2v1h-2zM616 766h2v1h-2zM620 766h2v1h-2zM624 766h2v1h-2zM628 766h2v1h-2zM632 766h2v1h-2zM636 766h2v1h-2zM640 766h2v1h-2zM644 766h2v1h-2zM648 766h2v1h-2zM652 766h2v1h-2zM656 766h2v1h-2zM660 766h2v1h-2zM664 766h2v1h-2zM668 766h2v1h-2zM672 766h2v1h-2zM676 766h2v1h-2zM680 766h2v1h-2zM684 766h2v1h-2zM688 766h2v1h-2zM692 766h2v1h-2zM696 766h2v1h-2zM700 766h2v1h-2zM704 766h2v1h-2zM708 766h2v1h-2zM712 766h2v1h-2zM716 766h2v1h-2zM720 766h2v1h-2zM724 766h2v1h-2zM728 766h2v1h-2zM732 766h2v1h-2zM736 766h2v1h-2zM740 766h2v1h-2zM744 766h2v1h-2zM748 766h2v1h-2zM752 766h2v1h-2zM756 766h2v1h-2zM760 766h2v1h-2zM764 766h2v1h-2zM768 766h2v1h-2zM772 766h2v1h-2zM776 766h2v1h-2zM780 766h2v1h-2zM784 766h2v1h-2zM788 766h2v1h-2zM792 766h2v1h-2zM796 766h2v1h-2zM800 766h2v1h-2zM804 766h2v1h-2zM808 766h2v1h-2zM812 766h2v1h-2zM816 766h2v1h-2zM820 766h2v1h-2zM824 766h2v1h-2zM828 766h2v1h-2zM832 766h2v1h-2zM836 766h2v1h-2zM840 766h2v1h-2zM844 766h2v1h-2zM848 766h2v1h-2zM852 766h2v1h-2zM856 766h2v1h-2zM860 766h2v1h-2zM864 766h2v1h-2zM868 766h2v1h-2zM872 766h2v1h-2zM876 766h2v1h-2zM880 766h2v1h-2zM884 766h2v1h-2zM888 766h2v1h-2zM892 766h2v1h-2zM896 766h2v1h-2zM900 766h2v1h-2zM904 766h2v1h-2zM908 766h2v1h-2zM912 766h2v1h-2zM916 766h2v1h-2zM920 766h2v1h-2zM924 766h2v1h-2zM928 766h2v1h-2zM932 766h2v1h-2zM936 766h2v1h-2zM940 766h2v1h-2zM944 766h2v1h-2zM948 766h2v1h-2zM952 766h2v1h-2zM956 766h2v1h-2zM960 766h2v1h-2zM964 766h2v1h-2zM968 766h2v1h-2zM972 766h2v1h-2zM976 766h2v1h-2zM980 766h2v1h-2zM984 766h2v1h-2zM988 766h2v1h-2zM992 766h2v1h-2zM996 766h2v1h-2zM1000 766h2v1h-2zM1004 766h2v1h-2zM1008 766h2v1h-2zM1012 766h2v1h-2zM1016 766h2v1h-2zM1020 766h2v1h-2zM1024 766h2v1h-2zM1028 766h2v1h-2zM1032 766h2v1h-2zM1036 766h2v1h-2zM1040 766h2v1h-2zM1044 766h2v1h-2zM1048 766h2v1h-2zM1052 766h2v1h-2zM1056 766h2v1h-2zM1060 766h2v1h-2zM1064 766h2v1h-2zM1068 766h2v1h-2zM1072 766h2v1h-2zM1076 766h2v1h-2zM1080 766h2v1h-2zM1084 766h2v1h-2zM1088 766h2v1h-2zM1092 766h2v1h-2zM1096 766h2v1h-2zM1100 766h2v1h-2zM1104 766h2v1h-2zM1108 766h2v1h-2zM1112 766h2v1h-2zM1116 766h2v1h-2zM1120 766h2v1h-2zM1124 766h2v1h-2zM1128 766h2v1h-2zM1132 766h2v1h-2zM1136 766h2v1h-2zM1140 766h2v1h-2zM1144 766h2v1h-2zM1148 766h2v1h-2zM1152 766h2v1h-2zM1156 766h2v1h-2zM1160 766h2v1h-2zM1164 766h2v1h-2zM1168 766h2v1h-2zM1172 766h2v1h-2zM1176 766h2v1h-2zM1180 766h2v1h-2zM1184 766h2v1h-2zM1188 766h2v1h-2zM1192 766h2v1h-2zM1196 766h2v1h-2zM1200 766h2v1h-2zM1204 766h2v1h-2zM1208 766h2v1h-2zM1212 766h2v1h-2zM1216 766h2v1h-2zM1220 766h2v1h-2zM1224 766h2v1h-2zM1228 766h2v1h-2zM1232 766h2v1h-2zM1236 766h2v1h-2zM1240 766h2v1h-2zM1244 766h2v1h-2zM1248 766h2v1h-2zM1252 766h2v1h-2zM1256 766h2v1h-2zM1260 766h2v1h-2zM1264 766h2v1h-2zM1268 766h2v1h-2zM1272 766h2v1h-2zM1276 766h2v1h-2zM1280 766h2v1h-2zM1284 766h2v1h-2zM1288 766h2v1h-2zM1292 766h2v1h-2zM1296 766h2v1h-2zM1300 766h2v1h-2zM1304 766h2v1h-2zM1308 766h2v1h-2zM1312 766h2v1h-2zM1316 766h2v1h-2zM1320 766h2v1h-2zM1324 766h2v1h-2zM1328 766h2v1h-2zM1332 766h2v1h-2zM1336 766h2v1h-2zM1340 766h2v1h-2zM1344 766h2v1h-2zM1348 766h2v1h-2zM1352 766h2v1h-2zM1356 766h2v1h-2zM1360 766h2v1h-2zM1364 766h2v1h-2zM1368 766h2v1h-2zM1372 766h2v1h-2zM1376 766h2v1h-2zM1380 766h2v1h-2zM1384 766h2v1h-2zM1388 766h2v1h-2zM1392 766h2v1h-2zM1396 766h2v1h-2zM1400 766h2v1h-2zM1404 766h2v1h-2zM1408 766h2v1h-2zM1412 766h2v1h-2zM1416 766h2v1h-2zM1420 766h2v1h-2zM1424 766h2v1h-2zM1428 766h2v1h-2zM1432 766h2v1h-2zM1436 766h2v1h-2zM1440 766h2v1h-2zM1444 766h2v1h-2zM1448 766h2v1h-2zM1452 766h2v1h-2zM1456 766h2v1h-2zM1460 766h2v1h-2zM1464 766h2v1h-2zM1468 766h2v1h-2zM1472 766h2v1h-2zM1476 766h2v1h-2zM1480 766h2v1h-2zM1484 766h2v1h-2zM1488 766h2v1h-2zM1492 766h2v1h-2zM1496 766h2v1h-2zM1500 766h2v1h-2zM1504 766h2v1h-2zM1508 766h2v1h-2zM1512 766h2v1h-2zM1516 766h2v1h-2zM1520 766h2v1h-2zM1524 766h2v1h-2zM1528 766h2v1h-2zM1532 766h2v1h-2zM1536 766h2v1h-2zM1540 766h2v1h-2zM1544 766h2v1h-2zM1548 766h2v1h-2zM1552 766h2v1h-2zM1556 766h2v1h-2zM1560 766h2v1h-2zM1564 766h2v1h-2zM1568 766h2v1h-2zM1572 766h2v1h-2zM1576 766h2v1h-2zM1580 766h2v1h-2zM1584 766h2v1h-2zM1588 766h2v1h-2zM1592 766h2v1h-2zM1596 766h2v1h-2zM1600 766h2v1h-2zM1604 766h2v1h-2zM1608 766h2v1h-2zM1612 766h2v1h-2zM1616 766h2v1h-2zM1620 766h2v1h-2zM1624 766h2v1h-2zM1628 766h2v1h-2zM1632 766h2v1h-2zM1636 766h2v1h-2zM1640 766h2v1h-2zM1644 766h2v1h-2zM1648 766h2v1h-2zM1652 766h2v1h-2zM1656 766h2v1h-2zM1660 766h2v1h-2zM1664 766h2v1h-2zM1668 766h2v1h-2zM1672 766h2v1h-2zM1676 766h2v1h-2zM1680 766h2v1h-2zM1684 766h2v1h-2zM1688 766h2v1h-2zM1692 766h2v1h-2zM1696 766h2v1h-2zM1700 766h2v1h-2zM1704 766h2v1h-2zM1708 766h2v1h-2zM1712 766h2v1h-2zM1716 766h2v1h-2zM1720 766h2v1h-2zM1724 766h2v1h-2zM1728 766h2v1h-2zM1732 766h2v1h-2zM1736 766h2v1h-2zM1740 766h2v1h-2zM1744 766h2v1h-2zM1748 766h2v1h-2zM1752 766h2v1h-2zM1756 766h2v1h-2zM1760 766h2v1h-2zM1764 766h2v1h-2zM1768 766h2v1h-2zM1772 766h2v1h-2zM1776 766h2v1h-2zM1780 766h2v1h-2zM1784 766h2v1h-2zM1788 766h2v1h-2zM1792 766h2v1h-2zM1796 766h2v1h-2zM1800 766h2v1h-2zM1804 766h2v1h-2zM1808 766h2v1h-2zM1812 766h2v1h-2zM1816 766h2v1h-2zM1820 766h2v1h-2zM1824 766h2v1h-2zM1828 766h2v1h-2zM1832 766h2v1h-2zM1836 766h2v1h-2zM1840 766h2v1h-2z" fill="#26a69a"/>
<rect x="1843" y="45" width="75" height="753" fill="#fff"/>
<rect x="48" y="774" width="1870" height="24" fill="#fff"/>
<rect x="1842" y="45" width="1" height="729" fill="#dfe2ea"/><rect x="48" y="773" width="1795" height="1" fill="#dfe2ea"/>
<g font-size="12" fill="#131722" letter-spacing="-0.2"><text x="1852" y="71.3">67480.00</text><text x="1852" y="116.0">67440.00</text><text x="1852" y="160.7">67400.00</text><text x="1852" y="205.5">67360.00</text><text x="1852" y="250.2">67320.00</text><text x="1852" y="294.9">67280.00</text><text x="1852" y="339.6">67240.00</text><text x="1852" y="384.3">67200.00</text><text x="1852" y="429.1">67160.00</text><text x="1852" y="473.8">67120.00</text><text x="1852" y="518.5">67080.00</text><text x="1852" y="563.2">67040.00</text><text x="1852" y="607.9">67000.00</text><text x="1852" y="652.7">66960.00</text><text x="1852" y="697.4">66920.00</text><text x="1852" y="742.1">66880.00</text><text x="83" y="791" text-anchor="middle">01:12</text><text x="211" y="791" text-anchor="middle">01:15</text><text x="297" y="791" text-anchor="middle">01:17</text><text x="425" y="791" text-anchor="middle">01:20</text><text x="511" y="791" text-anchor="middle">01:22</text><text x="639" y="791" text-anchor="middle">01:25</text><text x="725" y="791" text-anchor="middle">01:27</text><text x="853" y="791" text-anchor="middle">01:30</text><text x="938" y="791" text-anchor="middle">01:32</text><text x="1067" y="791" text-anchor="middle">01:35</text><text x="1152" y="791" text-anchor="middle">01:37</text><text x="1280" y="791" text-anchor="middle">01:40</text><text x="1366" y="791" text-anchor="middle">01:42</text><text x="1452" y="791" text-anchor="middle">01:44</text><text x="1558" y="791" text-anchor="middle" font-weight="bold">2026</text><text x="1644" y="791" text-anchor="middle">May</text><text x="1731" y="791" text-anchor="middle">Sep</text><text x="1819" y="791" text-anchor="middle" font-weight="bold">2027</text></g>
<path d="M1842 84h63a2 2 0 0 1 2 2v13a2 2 0 0 1-2 2h-63z" fill="#26a69a"/>
<path d="M1842 740h69a2 2 0 0 1 2 2v13a2 2 0 0 1-2 2h-69z" fill="#26a69a"/>
<rect x="1842" y="757" width="46" height="16" fill="#131722"/>
<g font-size="12" fill="#fff" stroke="#fff" stroke-width=".35" letter-spacing="-0.2"><text x="1852" y="96.6">67457.42</text><text x="1852" y="752.8">153043.00</text><text x="1852" y="769.8">−1.00</text></g>
<rect x="0" y="44" width="1918" height="1" fill="#e0e3eb"/>
<rect x="47" y="45" width="1" height="753" fill="#e0e3eb"/>
<rect x="50" y="15" width="1" height="16" fill="#e3e5ec"/><rect x="153" y="15" width="1" height="16" fill="#e3e5ec"/><rect x="201" y="15" width="1" height="16" fill="#e3e5ec"/><rect x="316" y="15" width="1" height="16" fill="#e3e5ec"/><rect x="356" y="15" width="1" height="16" fill="#e3e5ec"/><rect x="396" y="15" width="1" height="16" fill="#e3e5ec"/>
<g font-size="12" fill="#3d4583"><text x="22" y="27">1s</text><text x="88" y="27">Shanghai</text><text x="249.5" y="27">Indicators</text></g>
<g fill="none" stroke="#4a4f5c" stroke-width="1.3" stroke-linecap="round" stroke-linejoin="round">
<circle cx="73.3" cy="23.2" r="6.4"/><path d="M73.3 19.2v4.3l2.8 1.6"/>
<g stroke-width="1.15" stroke-linecap="butt"><rect x="172.600" y="18.500" width="9.900" height="9.900" rx="0.9"/><path d="M177.55 18.500v9.900M173.700 18.500v-2.100h7.700v2.100M173.700 28.400v2.100h7.700v-2.100"/></g>
<path d="M330.2 20.2v-2.2a1.4 1.4 0 0 1 1.4-1.4h2.2M338.8 16.6h2.2a1.4 1.4 0 0 1 1.4 1.4v2.2M342.4 26.6v2.2a1.4 1.4 0 0 1-1.4 1.4h-2.2M333.8 30.2h-2.2a1.4 1.4 0 0 1-1.4-1.4v-2.2"/>
<path d="M369.8 19.4h2.4l1.3-2.2h5.6l1.3 2.2h2.4a1.3 1.3 0 0 1 1.3 1.3v7.9a1.3 1.3 0 0 1-1.3 1.3h-13a1.3 1.3 0 0 1-1.3-1.3v-7.9a1.3 1.3 0 0 1 1.3-1.3z"/><circle cx="376.3" cy="24.2" r="2.7"/>
</g>
<text x="216.6" y="27.600" font-size="15" font-style="italic" fill="#4a4f5c">ƒ</text>
<text x="225.600" y="27.600" font-size="15" fill="#4a4f5c">(x)</text>
<circle cx="412.9" cy="22.8" r="8" fill="#3f4450"/>
<circle cx="412.9" cy="22.8" r="2.6" fill="none" stroke="#14161c" stroke-width="1.8"/>
<g stroke="#14161c" stroke-width="1.4"><path d="M412.9 18.3v1.6M412.9 25.7v1.6M408.4 22.8h1.6M415.8 22.8h1.6M409.7 19.6l1.1 1.1M415 24.9l1.1 1.1M409.7 26l1.1-1.1M415 20.7l1.1-1.1"/></g>

<text x="62" y="69.5" font-size="13.5" font-weight="bold" fill="#131722">Test</text>
<g fill="none" stroke="#2a2e39" stroke-width="1.3"><path d="M102.2 66.2c1.8-3 4.2-4.6 6.9-4.6s5.1 1.600 6.900 4.600c-1.800 3-4.200 4.600-6.900 4.600s-5.100-1.600-6.900-4.600z"/><circle cx="109.1" cy="66.2" r="2"/></g>
<g font-size="12" fill="#2a2e39"><text x="129" y="68.7">O:66926.53</text><text x="200" y="68.7">H:66930.16</text><text x="269.5" y="68.7">L:66926.16</text><text x="337.6" y="68.7" fill="#f0574a">C:66926.16</text><text x="408" y="68.7" fill="#555a66">2025-11-26 01:12:06</text></g>
<g fill="none" stroke="#4a4f5c" stroke-width="1.4" stroke-linejoin="round" stroke-linecap="round">
<path d="M14.5 67v15l12.800-7.500z"/>
<path d="M14.800 115.700L28 102.500"/><circle cx="13.600" cy="116.900" r="1.700"/><circle cx="29.200" cy="101.300" r="1.700"/>
<rect x="13.750" y="136.750" width="15.500" height="15.500"/><path d="M21.500 136.750v15.500M13.750 144.500h15.500M17.300 140.300l8.400 8.400M25.700 140.300l-8.400 8.400" stroke-width="1.200"/><circle cx="21.500" cy="144.500" r="1.100" fill="#4a4f5c" stroke="none"/>
<path d="M11.500 171.700h20M11.500 186.800h20"/><rect x="17" y="171.700" width="9.300" height="15.100" fill="#d9dadd"/>
<rect x="12.600" y="205.700" width="17.600" height="17.200"/>
<path d="M12.300 258.300l.7-4.500 12.300-12.300a1.200 1.200 0 0 1 1.700 0l2.300 2.300a1.200 1.200 0 0 1 0 1.700l-12.300 12.300zM23.500 243.300l4 4"/>
<path d="M13.700 279.600v-2.900h15.600v2.900M21.600 276.700v15.300M17.900 292h7.400" stroke-linecap="butt" stroke-linejoin="miter"/>
<circle cx="21.400" cy="319" r="9.300"/><path d="M17.300 322c1 1.500 2.400 2.300 4.100 2.300s3.100-.8 4.100-2.300"/><path d="M18.300 315.300v1.800M24.500 315.300v1.800" stroke-width="1.700"/>
<rect x="13.800" y="373.700" width="17.400" height="11.400" rx="2"/><path d="M17.800 373.500v-3.300a4.700 4.700 0 0 1 4.700-4.700q.9 0 1.500.5"/><path d="M22.400 377.600v2.800" stroke-width="1.500" stroke-linecap="butt"/><path d="M21.300 378.800l1.100-1.300l1.100 1.300" stroke-width="1"/>
<path d="M11.800 410.400c2.800-5 6.400-7.600 10.700-7.600s7.900 2.600 10.700 7.600c-2.800 5-6.400 7.600-10.700 7.600s-7.900-2.600-10.700-7.600z"/><circle cx="22.500" cy="410.400" r="3.300"/>
<path d="M13.300 460.700h18.400M18.700 460.500v-2.300a1 1 0 0 1 1-1h5.600a1 1 0 0 1 1 1v2.300M15.300 460.700l.4 12.600a1.800 1.800 0 0 0 1.800 1.800h10a1.800 1.800 0 0 0 1.800-1.800l.4-12.600"/><path d="M20.600 465v6.300M24.500 465v6.300" stroke-width="1.600" stroke-linecap="butt"/>
</g>
<rect x="4" y="347" width="37" height="1" fill="#e0e3eb"/><rect x="4" y="438" width="37" height="1" fill="#e0e3eb"/>
</svg>
</body></html>
